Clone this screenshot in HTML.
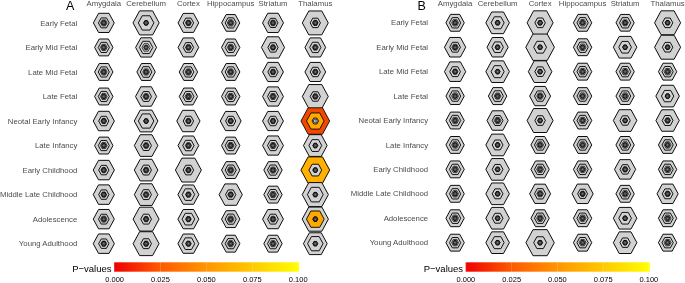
<!DOCTYPE html><html><head><meta charset="utf-8"><style>html,body{margin:0;padding:0;background:#fff;}svg{display:block;}</style></head><body><svg width="685" height="283" viewBox="0 0 685 283" font-family="'Liberation Sans', sans-serif"><defs><filter id="gs" x="0" y="0" width="685" height="283" filterUnits="userSpaceOnUse" color-interpolation-filters="sRGB"><feColorMatrix type="saturate" values="0"/></filter><linearGradient id="grad" x1="0" x2="1" y1="0" y2="0"><stop offset="0" stop-color="#ee0000"/><stop offset="0.25" stop-color="#ff5a00"/><stop offset="0.5" stop-color="#ff9500"/><stop offset="0.75" stop-color="#ffca00"/><stop offset="1" stop-color="#ffff00"/></linearGradient></defs><rect width="100%" height="100%" fill="#fff"/><g><g stroke="#000" stroke-width="0.85" stroke-linejoin="round"><polygon points="93.38,22.90 98.59,13.31 109.01,13.31 114.22,22.90 109.01,32.49 98.59,32.49" fill="#d2d2d2" stroke-width="0.95"/><polygon points="133.03,22.90 139.56,10.87 152.64,10.87 159.17,22.90 152.64,34.93 139.56,34.93" fill="#d2d2d2" stroke-width="0.95"/><polygon points="178.07,22.90 183.24,13.40 193.56,13.40 198.72,22.90 193.56,32.40 183.24,32.40" fill="#d2d2d2" stroke-width="0.95"/><polygon points="221.62,22.90 226.16,14.55 235.24,14.55 239.77,22.90 235.24,31.25 226.16,31.25" fill="#d2d2d2" stroke-width="0.95"/><polygon points="262.52,22.90 267.76,13.26 278.24,13.26 283.48,22.90 278.24,32.54 267.76,32.54" fill="#d2d2d2" stroke-width="0.95"/><polygon points="302.32,22.90 308.81,10.96 321.79,10.96 328.28,22.90 321.79,34.84 308.81,34.84" fill="#d2d2d2" stroke-width="0.95"/><polygon points="94.62,47.43 99.21,38.99 108.39,38.99 112.97,47.43 108.39,55.87 99.21,55.87" fill="#d2d2d2" stroke-width="0.95"/><polygon points="135.62,47.43 140.86,37.79 151.34,37.79 156.57,47.43 151.34,57.07 140.86,57.07" fill="#d2d2d2" stroke-width="0.95"/><polygon points="178.07,47.43 183.24,37.93 193.56,37.93 198.72,47.43 193.56,56.93 183.24,56.93" fill="#d2d2d2" stroke-width="0.95"/><polygon points="221.52,47.43 226.11,38.99 235.29,38.99 239.88,47.43 235.29,55.87 226.11,55.87" fill="#d2d2d2" stroke-width="0.95"/><polygon points="261.43,47.43 267.21,36.78 278.79,36.78 284.57,47.43 278.79,58.08 267.21,58.08" fill="#d2d2d2" stroke-width="0.95"/><polygon points="304.93,47.43 310.11,37.88 320.49,37.88 325.68,47.43 320.49,56.98 310.11,56.98" fill="#d2d2d2" stroke-width="0.95"/><polygon points="94.62,71.96 99.21,63.52 108.39,63.52 112.97,71.96 108.39,80.40 99.21,80.40" fill="#d2d2d2" stroke-width="0.95"/><polygon points="136.88,71.96 141.49,63.47 150.71,63.47 155.32,71.96 150.71,80.45 141.49,80.45" fill="#d2d2d2" stroke-width="0.95"/><polygon points="179.22,71.96 183.81,63.52 192.99,63.52 197.57,71.96 192.99,80.40 183.81,80.40" fill="#d2d2d2" stroke-width="0.95"/><polygon points="221.52,71.96 226.11,63.52 235.29,63.52 239.88,71.96 235.29,80.40 226.11,80.40" fill="#d2d2d2" stroke-width="0.95"/><polygon points="262.57,71.96 267.79,62.37 278.21,62.37 283.43,71.96 278.21,81.55 267.79,81.55" fill="#d2d2d2" stroke-width="0.95"/><polygon points="304.93,71.96 310.11,62.42 320.49,62.42 325.68,71.96 320.49,81.51 310.11,81.51" fill="#d2d2d2" stroke-width="0.95"/><polygon points="94.62,96.49 99.21,88.05 108.39,88.05 112.97,96.49 108.39,104.93 99.21,104.93" fill="#d2d2d2" stroke-width="0.95"/><polygon points="135.53,96.49 140.81,86.76 151.39,86.76 156.67,96.49 151.39,106.22 140.81,106.22" fill="#d2d2d2" stroke-width="0.95"/><polygon points="179.22,96.49 183.81,88.05 192.99,88.05 197.57,96.49 192.99,104.93 183.81,104.93" fill="#d2d2d2" stroke-width="0.95"/><polygon points="221.52,96.49 226.11,88.05 235.29,88.05 239.88,96.49 235.29,104.93 226.11,104.93" fill="#d2d2d2" stroke-width="0.95"/><polygon points="262.57,96.49 267.79,86.90 278.21,86.90 283.43,96.49 278.21,106.08 267.79,106.08" fill="#d2d2d2" stroke-width="0.95"/><polygon points="302.32,96.49 308.81,84.55 321.79,84.55 328.28,96.49 321.79,108.43 308.81,108.43" fill="#d2d2d2" stroke-width="0.95"/><polygon points="93.22,121.02 98.51,111.29 109.09,111.29 114.38,121.02 109.09,130.75 98.51,130.75" fill="#d2d2d2" stroke-width="0.95"/><polygon points="134.28,121.02 140.19,110.14 152.01,110.14 157.92,121.02 152.01,131.90 140.19,131.90" fill="#d2d2d2" stroke-width="0.95"/><polygon points="176.77,121.02 182.59,110.33 194.21,110.33 200.02,121.02 194.21,131.72 182.59,131.72" fill="#d2d2d2" stroke-width="0.95"/><polygon points="220.27,121.02 225.49,111.43 235.91,111.43 241.12,121.02 235.91,130.61 225.49,130.61" fill="#d2d2d2" stroke-width="0.95"/><polygon points="262.57,121.02 267.79,111.43 278.21,111.43 283.43,121.02 278.21,130.61 267.79,130.61" fill="#d2d2d2" stroke-width="0.95"/><polygon points="300.93,121.02 308.11,107.80 322.49,107.80 329.68,121.02 322.49,134.25 308.11,134.25" fill="#f04800" stroke-width="0.85"/><polygon points="94.62,145.55 99.21,137.11 108.39,137.11 112.97,145.55 108.39,153.99 99.21,153.99" fill="#d2d2d2" stroke-width="0.95"/><polygon points="134.32,145.55 140.21,134.72 151.99,134.72 157.88,145.55 151.99,156.38 140.21,156.38" fill="#d2d2d2" stroke-width="0.95"/><polygon points="178.02,145.55 183.21,136.01 193.59,136.01 198.77,145.55 193.59,155.09 183.21,155.09" fill="#d2d2d2" stroke-width="0.95"/><polygon points="221.52,145.55 226.11,137.11 235.29,137.11 239.88,145.55 235.29,153.99 226.11,153.99" fill="#d2d2d2" stroke-width="0.95"/><polygon points="262.57,145.55 267.79,135.96 278.21,135.96 283.43,145.55 278.21,155.14 267.79,155.14" fill="#d2d2d2" stroke-width="0.95"/><polygon points="303.48,145.55 309.39,134.67 321.21,134.67 327.12,145.55 321.21,156.43 309.39,156.43" fill="#d2d2d2" stroke-width="0.95"/><polygon points="93.22,170.08 98.51,160.35 109.09,160.35 114.38,170.08 109.09,179.81 98.51,179.81" fill="#d2d2d2" stroke-width="0.95"/><polygon points="134.32,170.08 140.21,159.25 151.99,159.25 157.88,170.08 151.99,180.91 140.21,180.91" fill="#d2d2d2" stroke-width="0.95"/><polygon points="175.42,170.08 181.91,158.14 194.89,158.14 201.37,170.08 194.89,182.02 181.91,182.02" fill="#d2d2d2" stroke-width="0.95"/><polygon points="221.52,170.08 226.11,161.64 235.29,161.64 239.88,170.08 235.29,178.52 226.11,178.52" fill="#d2d2d2" stroke-width="0.95"/><polygon points="263.82,170.08 268.41,161.64 277.59,161.64 282.18,170.08 277.59,178.52 268.41,178.52" fill="#d2d2d2" stroke-width="0.95"/><polygon points="300.93,170.08 308.11,156.86 322.49,156.86 329.68,170.08 322.49,183.31 308.11,183.31" fill="#ffb000" stroke-width="0.95"/><polygon points="93.22,194.61 98.51,184.88 109.09,184.88 114.38,194.61 109.09,204.34 98.51,204.34" fill="#d2d2d2" stroke-width="0.95"/><polygon points="134.32,194.61 140.21,183.78 151.99,183.78 157.88,194.61 151.99,205.44 140.21,205.44" fill="#d2d2d2" stroke-width="0.95"/><polygon points="177.92,194.61 183.16,184.97 193.64,184.97 198.87,194.61 193.64,204.25 183.16,204.25" fill="#d2d2d2" stroke-width="0.95"/><polygon points="219.07,194.61 224.89,183.92 236.51,183.92 242.32,194.61 236.51,205.31 224.89,205.31" fill="#d2d2d2" stroke-width="0.95"/><polygon points="263.82,194.61 268.41,186.17 277.59,186.17 282.18,194.61 277.59,203.05 268.41,203.05" fill="#d2d2d2" stroke-width="0.95"/><polygon points="302.23,194.61 308.76,182.58 321.84,182.58 328.38,194.61 321.84,206.64 308.76,206.64" fill="#d2d2d2" stroke-width="0.95"/><polygon points="93.28,219.14 98.54,209.46 109.06,209.46 114.32,219.14 109.06,228.82 98.54,228.82" fill="#d2d2d2" stroke-width="0.95"/><polygon points="133.12,219.14 139.61,207.20 152.59,207.20 159.07,219.14 152.59,231.08 139.61,231.08" fill="#d2d2d2" stroke-width="0.95"/><polygon points="177.92,219.14 183.16,209.50 193.64,209.50 198.87,219.14 193.64,228.78 183.16,228.78" fill="#d2d2d2" stroke-width="0.95"/><polygon points="221.52,219.14 226.11,210.70 235.29,210.70 239.88,219.14 235.29,227.58 226.11,227.58" fill="#d2d2d2" stroke-width="0.95"/><polygon points="262.57,219.14 267.79,209.55 278.21,209.55 283.43,219.14 278.21,228.73 267.79,228.73" fill="#d2d2d2" stroke-width="0.95"/><polygon points="302.18,219.14 308.74,207.07 321.86,207.07 328.43,219.14 321.86,231.22 308.74,231.22" fill="#d2d2d2" stroke-width="0.95"/><polygon points="93.22,243.67 98.51,233.94 109.09,233.94 114.38,243.67 109.09,253.40 98.51,253.40" fill="#d2d2d2" stroke-width="0.95"/><polygon points="133.12,243.67 139.61,231.73 152.59,231.73 159.07,243.67 152.59,255.61 139.61,255.61" fill="#d2d2d2" stroke-width="0.95"/><polygon points="177.92,243.67 183.16,234.03 193.64,234.03 198.87,243.67 193.64,253.31 183.16,253.31" fill="#d2d2d2" stroke-width="0.95"/><polygon points="221.52,243.67 226.11,235.23 235.29,235.23 239.88,243.67 235.29,252.11 226.11,252.11" fill="#d2d2d2" stroke-width="0.95"/><polygon points="263.82,243.67 268.41,235.23 277.59,235.23 282.18,243.67 277.59,252.11 268.41,252.11" fill="#d2d2d2" stroke-width="0.95"/><polygon points="303.43,243.67 309.36,232.75 321.24,232.75 327.18,243.67 321.24,254.60 309.36,254.60" fill="#d2d2d2" stroke-width="0.95"/><polygon points="98.42,22.90 101.11,17.95 106.49,17.95 109.17,22.90 106.49,27.84 101.11,27.84" fill="#d2d2d2" stroke-width="0.92"/><polygon points="138.32,22.90 142.21,15.75 149.99,15.75 153.88,22.90 149.99,30.05 142.21,30.05" fill="#d2d2d2" stroke-width="0.92"/><polygon points="183.17,22.90 185.79,18.09 191.01,18.09 193.62,22.90 191.01,27.71 185.79,27.71" fill="#d2d2d2" stroke-width="0.92"/><polygon points="225.17,22.90 227.94,17.82 233.46,17.82 236.22,22.90 233.46,27.98 227.94,27.98" fill="#d2d2d2" stroke-width="0.92"/><polygon points="268.02,22.90 270.51,18.32 275.49,18.32 277.98,22.90 275.49,27.48 270.51,27.48" fill="#d2d2d2" stroke-width="0.92"/><polygon points="310.18,22.90 312.74,18.18 317.86,18.18 320.43,22.90 317.86,27.61 312.74,27.61" fill="#d2d2d2" stroke-width="0.92"/><polygon points="98.27,47.43 101.04,42.35 106.56,42.35 109.33,47.43 106.56,52.51 101.04,52.51" fill="#d2d2d2" stroke-width="0.92"/><polygon points="139.42,47.43 142.76,41.29 149.44,41.29 152.78,47.43 149.44,53.57 142.76,53.57" fill="#d2d2d2" stroke-width="0.92"/><polygon points="183.17,47.43 185.79,42.62 191.01,42.62 193.62,47.43 191.01,52.24 185.79,52.24" fill="#d2d2d2" stroke-width="0.92"/><polygon points="225.17,47.43 227.94,42.35 233.46,42.35 236.22,47.43 233.46,52.51 227.94,52.51" fill="#d2d2d2" stroke-width="0.92"/><polygon points="267.88,47.43 270.44,42.72 275.56,42.72 278.12,47.43 275.56,52.14 270.44,52.14" fill="#d2d2d2" stroke-width="0.92"/><polygon points="309.68,47.43 312.49,42.26 318.11,42.26 320.93,47.43 318.11,52.60 312.49,52.60" fill="#d2d2d2" stroke-width="0.92"/><polygon points="98.27,71.96 101.04,66.88 106.56,66.88 109.33,71.96 106.56,77.04 101.04,77.04" fill="#d2d2d2" stroke-width="0.92"/><polygon points="140.32,71.96 143.21,66.65 148.99,66.65 151.88,71.96 148.99,77.27 143.21,77.27" fill="#d2d2d2" stroke-width="0.92"/><polygon points="182.87,71.96 185.64,66.88 191.16,66.88 193.92,71.96 191.16,77.04 185.64,77.04" fill="#d2d2d2" stroke-width="0.92"/><polygon points="225.17,71.96 227.94,66.88 233.46,66.88 236.22,71.96 233.46,77.04 227.94,77.04" fill="#d2d2d2" stroke-width="0.92"/><polygon points="267.88,71.96 270.44,67.25 275.56,67.25 278.12,71.96 275.56,76.68 270.44,76.68" fill="#d2d2d2" stroke-width="0.92"/><polygon points="310.18,71.96 312.74,67.25 317.86,67.25 320.43,71.96 317.86,76.68 312.74,76.68" fill="#d2d2d2" stroke-width="0.92"/><polygon points="98.27,96.49 101.04,91.41 106.56,91.41 109.33,96.49 106.56,101.57 101.04,101.57" fill="#d2d2d2" stroke-width="0.92"/><polygon points="140.72,96.49 143.41,91.55 148.79,91.55 151.47,96.49 148.79,101.44 143.41,101.44" fill="#d2d2d2" stroke-width="0.92"/><polygon points="182.87,96.49 185.64,91.41 191.16,91.41 193.92,96.49 191.16,101.57 185.64,101.57" fill="#d2d2d2" stroke-width="0.92"/><polygon points="225.17,96.49 227.94,91.41 233.46,91.41 236.22,96.49 233.46,101.57 227.94,101.57" fill="#d2d2d2" stroke-width="0.92"/><polygon points="267.48,96.49 270.24,91.41 275.76,91.41 278.52,96.49 275.76,101.57 270.24,101.57" fill="#d2d2d2" stroke-width="0.92"/><polygon points="310.18,96.49 312.74,91.78 317.86,91.78 320.43,96.49 317.86,101.21 312.74,101.21" fill="#d2d2d2" stroke-width="0.92"/><polygon points="98.67,121.02 101.24,116.31 106.36,116.31 108.92,121.02 106.36,125.74 101.24,125.74" fill="#d2d2d2" stroke-width="0.92"/><polygon points="138.38,121.02 142.24,113.91 149.96,113.91 153.82,121.02 149.96,128.13 142.24,128.13" fill="#d2d2d2" stroke-width="0.92"/><polygon points="183.17,121.02 185.79,116.21 191.01,116.21 193.62,121.02 191.01,125.83 185.79,125.83" fill="#d2d2d2" stroke-width="0.92"/><polygon points="225.57,121.02 228.14,116.31 233.26,116.31 235.82,121.02 233.26,125.74 228.14,125.74" fill="#d2d2d2" stroke-width="0.92"/><polygon points="267.88,121.02 270.44,116.31 275.56,116.31 278.12,121.02 275.56,125.74 270.44,125.74" fill="#d2d2d2" stroke-width="0.92"/><polygon points="306.53,121.02 310.91,112.95 319.69,112.95 324.07,121.02 319.69,129.09 310.91,129.09" fill="#ffa800" stroke-width="0.85"/><polygon points="98.27,145.55 101.04,140.47 106.56,140.47 109.33,145.55 106.56,150.63 101.04,150.63" fill="#d2d2d2" stroke-width="0.92"/><polygon points="140.72,145.55 143.41,140.61 148.79,140.61 151.47,145.55 148.79,150.50 143.41,150.50" fill="#d2d2d2" stroke-width="0.92"/><polygon points="182.72,145.55 185.56,140.33 191.24,140.33 194.07,145.55 191.24,150.77 185.56,150.77" fill="#d2d2d2" stroke-width="0.92"/><polygon points="225.17,145.55 227.94,140.47 233.46,140.47 236.22,145.55 233.46,150.63 227.94,150.63" fill="#d2d2d2" stroke-width="0.92"/><polygon points="267.48,145.55 270.24,140.47 275.76,140.47 278.52,145.55 275.76,150.63 270.24,150.63" fill="#d2d2d2" stroke-width="0.92"/><polygon points="308.88,145.55 312.09,139.64 318.51,139.64 321.73,145.55 318.51,151.46 312.09,151.46" fill="#d2d2d2" stroke-width="0.92"/><polygon points="98.67,170.08 101.24,165.37 106.36,165.37 108.92,170.08 106.36,174.80 101.24,174.80" fill="#d2d2d2" stroke-width="0.92"/><polygon points="140.72,170.08 143.41,165.14 148.79,165.14 151.47,170.08 148.79,175.03 143.41,175.03" fill="#d2d2d2" stroke-width="0.92"/><polygon points="183.17,170.08 185.79,165.27 191.01,165.27 193.62,170.08 191.01,174.89 185.79,174.89" fill="#d2d2d2" stroke-width="0.92"/><polygon points="225.17,170.08 227.94,165.00 233.46,165.00 236.22,170.08 233.46,175.16 227.94,175.16" fill="#d2d2d2" stroke-width="0.92"/><polygon points="267.48,170.08 270.24,165.00 275.76,165.00 278.52,170.08 275.76,175.16 270.24,175.16" fill="#d2d2d2" stroke-width="0.92"/><polygon points="308.93,170.08 312.11,164.22 318.49,164.22 321.68,170.08 318.49,175.95 312.11,175.95" fill="#d2d2d2" stroke-width="0.92"/><polygon points="98.67,194.61 101.24,189.90 106.36,189.90 108.92,194.61 106.36,199.33 101.24,199.33" fill="#d2d2d2" stroke-width="0.92"/><polygon points="140.72,194.61 143.41,189.67 148.79,189.67 151.47,194.61 148.79,199.56 143.41,199.56" fill="#d2d2d2" stroke-width="0.92"/><polygon points="182.12,194.61 185.26,188.84 191.54,188.84 194.67,194.61 191.54,200.38 185.26,200.38" fill="#d2d2d2" stroke-width="0.92"/><polygon points="225.57,194.61 228.14,189.90 233.26,189.90 235.82,194.61 233.26,199.33 228.14,199.33" fill="#d2d2d2" stroke-width="0.92"/><polygon points="267.48,194.61 270.24,189.53 275.76,189.53 278.52,194.61 275.76,199.69 270.24,199.69" fill="#d2d2d2" stroke-width="0.92"/><polygon points="307.38,194.61 311.34,187.32 319.26,187.32 323.23,194.61 319.26,201.90 311.34,201.90" fill="#d2d2d2" stroke-width="0.92"/><polygon points="98.47,219.14 101.14,214.24 106.46,214.24 109.12,219.14 106.46,224.04 101.14,224.04" fill="#d2d2d2" stroke-width="0.92"/><polygon points="140.72,219.14 143.41,214.20 148.79,214.20 151.47,219.14 148.79,224.09 143.41,224.09" fill="#d2d2d2" stroke-width="0.92"/><polygon points="182.07,219.14 185.24,213.32 191.56,213.32 194.72,219.14 191.56,224.96 185.24,224.96" fill="#d2d2d2" stroke-width="0.92"/><polygon points="225.17,219.14 227.94,214.06 233.46,214.06 236.22,219.14 233.46,224.22 227.94,224.22" fill="#d2d2d2" stroke-width="0.92"/><polygon points="267.62,219.14 270.31,214.20 275.69,214.20 278.38,219.14 275.69,224.09 270.31,224.09" fill="#d2d2d2" stroke-width="0.92"/><polygon points="306.43,219.14 310.86,210.98 319.74,210.98 324.18,219.14 319.74,227.31 310.86,227.31" fill="#ffa800" stroke-width="0.92"/><polygon points="98.67,243.67 101.24,238.96 106.36,238.96 108.92,243.67 106.36,248.39 101.24,248.39" fill="#d2d2d2" stroke-width="0.92"/><polygon points="140.72,243.67 143.41,238.73 148.79,238.73 151.47,243.67 148.79,248.62 143.41,248.62" fill="#d2d2d2" stroke-width="0.92"/><polygon points="182.07,243.67 185.24,237.85 191.56,237.85 194.72,243.67 191.56,249.49 185.24,249.49" fill="#d2d2d2" stroke-width="0.92"/><polygon points="225.17,243.67 227.94,238.59 233.46,238.59 236.22,243.67 233.46,248.75 227.94,248.75" fill="#d2d2d2" stroke-width="0.92"/><polygon points="267.48,243.67 270.24,238.59 275.76,238.59 278.52,243.67 275.76,248.75 270.24,248.75" fill="#d2d2d2" stroke-width="0.92"/><polygon points="307.57,243.67 311.44,236.56 319.16,236.56 323.03,243.67 319.16,250.78 311.44,250.78" fill="#d2d2d2" stroke-width="0.92"/><polygon points="100.52,22.90 102.16,19.89 105.44,19.89 107.08,22.90 105.44,25.91 102.16,25.91" fill="#d2d2d2" stroke-width="0.7"/><polygon points="143.67,22.90 144.89,20.67 147.31,20.67 148.53,22.90 147.31,25.13 144.89,25.13" fill="#d2d2d2" stroke-width="0.7"/><polygon points="185.47,22.90 186.94,20.21 189.86,20.21 191.32,22.90 189.86,25.59 186.94,25.59" fill="#d2d2d2" stroke-width="0.7"/><polygon points="227.27,22.90 228.99,19.75 232.41,19.75 234.12,22.90 232.41,26.05 228.99,26.05" fill="#d2d2d2" stroke-width="0.7"/><polygon points="269.98,22.90 271.49,20.12 274.51,20.12 276.02,22.90 274.51,25.68 271.49,25.68" fill="#d2d2d2" stroke-width="0.7"/><polygon points="312.48,22.90 313.89,20.30 316.71,20.30 318.12,22.90 316.71,25.50 313.89,25.50" fill="#d2d2d2" stroke-width="0.7"/><polygon points="100.47,47.43 102.14,44.37 105.46,44.37 107.12,47.43 105.46,50.49 102.14,50.49" fill="#d2d2d2" stroke-width="0.7"/><polygon points="142.03,47.43 144.06,43.68 148.14,43.68 150.17,47.43 148.14,51.18 144.06,51.18" fill="#d2d2d2" stroke-width="0.7"/><polygon points="185.47,47.43 186.94,44.74 189.86,44.74 191.32,47.43 189.86,50.12 186.94,50.12" fill="#d2d2d2" stroke-width="0.7"/><polygon points="227.38,47.43 229.04,44.37 232.36,44.37 234.02,47.43 232.36,50.49 229.04,50.49" fill="#d2d2d2" stroke-width="0.7"/><polygon points="270.18,47.43 271.59,44.83 274.41,44.83 275.82,47.43 274.41,50.03 271.59,50.03" fill="#d2d2d2" stroke-width="0.7"/><polygon points="312.32,47.43 313.81,44.69 316.79,44.69 318.28,47.43 316.79,50.17 313.81,50.17" fill="#d2d2d2" stroke-width="0.7"/><polygon points="100.47,71.96 102.14,68.90 105.46,68.90 107.12,71.96 105.46,75.02 102.14,75.02" fill="#d2d2d2" stroke-width="0.7"/><polygon points="142.72,71.96 144.41,68.86 147.79,68.86 149.47,71.96 147.79,75.07 144.41,75.07" fill="#d2d2d2" stroke-width="0.7"/><polygon points="185.07,71.96 186.74,68.90 190.06,68.90 191.72,71.96 190.06,75.02 186.74,75.02" fill="#d2d2d2" stroke-width="0.7"/><polygon points="227.38,71.96 229.04,68.90 232.36,68.90 234.02,71.96 232.36,75.02 229.04,75.02" fill="#d2d2d2" stroke-width="0.7"/><polygon points="270.07,71.96 271.54,69.27 274.46,69.27 275.93,71.96 274.46,74.65 271.54,74.65" fill="#d2d2d2" stroke-width="0.7"/><polygon points="312.48,71.96 313.89,69.36 316.71,69.36 318.12,71.96 316.71,74.56 313.89,74.56" fill="#d2d2d2" stroke-width="0.7"/><polygon points="100.47,96.49 102.14,93.43 105.46,93.43 107.12,96.49 105.46,99.55 102.14,99.55" fill="#d2d2d2" stroke-width="0.7"/><polygon points="143.03,96.49 144.56,93.66 147.64,93.66 149.17,96.49 147.64,99.32 144.56,99.32" fill="#d2d2d2" stroke-width="0.7"/><polygon points="185.07,96.49 186.74,93.43 190.06,93.43 191.72,96.49 190.06,99.55 186.74,99.55" fill="#d2d2d2" stroke-width="0.7"/><polygon points="227.38,96.49 229.04,93.43 232.36,93.43 234.02,96.49 232.36,99.55 229.04,99.55" fill="#d2d2d2" stroke-width="0.7"/><polygon points="269.77,96.49 271.39,93.52 274.61,93.52 276.23,96.49 274.61,99.46 271.39,99.46" fill="#d2d2d2" stroke-width="0.7"/><polygon points="312.48,96.49 313.89,93.89 316.71,93.89 318.12,96.49 316.71,99.09 313.89,99.09" fill="#d2d2d2" stroke-width="0.7"/><polygon points="100.97,121.02 102.39,118.42 105.21,118.42 106.62,121.02 105.21,123.62 102.39,123.62" fill="#d2d2d2" stroke-width="0.7"/><polygon points="143.67,121.02 144.89,118.79 147.31,118.79 148.53,121.02 147.31,123.25 144.89,123.25" fill="#d2d2d2" stroke-width="0.7"/><polygon points="185.57,121.02 186.99,118.42 189.81,118.42 191.22,121.02 189.81,123.62 186.99,123.62" fill="#d2d2d2" stroke-width="0.7"/><polygon points="227.88,121.02 229.29,118.42 232.11,118.42 233.52,121.02 232.11,123.62 229.29,123.62" fill="#d2d2d2" stroke-width="0.7"/><polygon points="270.18,121.02 271.59,118.42 274.41,118.42 275.82,121.02 274.41,123.62 271.59,123.62" fill="#d2d2d2" stroke-width="0.7"/><polygon points="312.07,121.02 313.69,118.05 316.91,118.05 318.53,121.02 316.91,123.99 313.69,123.99" fill="#d2d2d2" stroke-width="0.85"/><polygon points="100.47,145.55 102.14,142.49 105.46,142.49 107.12,145.55 105.46,148.61 102.14,148.61" fill="#d2d2d2" stroke-width="0.7"/><polygon points="143.12,145.55 144.61,142.81 147.59,142.81 149.07,145.55 147.59,148.29 144.61,148.29" fill="#d2d2d2" stroke-width="0.7"/><polygon points="185.32,145.55 186.86,142.72 189.94,142.72 191.47,145.55 189.94,148.38 186.86,148.38" fill="#d2d2d2" stroke-width="0.7"/><polygon points="227.38,145.55 229.04,142.49 232.36,142.49 234.02,145.55 232.36,148.61 229.04,148.61" fill="#d2d2d2" stroke-width="0.7"/><polygon points="269.77,145.55 271.39,142.58 274.61,142.58 276.23,145.55 274.61,148.52 271.39,148.52" fill="#d2d2d2" stroke-width="0.7"/><polygon points="312.88,145.55 314.09,143.32 316.51,143.32 317.73,145.55 316.51,147.78 314.09,147.78" fill="#d2d2d2" stroke-width="0.7"/><polygon points="100.97,170.08 102.39,167.48 105.21,167.48 106.62,170.08 105.21,172.68 102.39,172.68" fill="#d2d2d2" stroke-width="0.7"/><polygon points="143.12,170.08 144.61,167.34 147.59,167.34 149.07,170.08 147.59,172.82 144.61,172.82" fill="#d2d2d2" stroke-width="0.7"/><polygon points="185.57,170.08 186.99,167.48 189.81,167.48 191.22,170.08 189.81,172.68 186.99,172.68" fill="#d2d2d2" stroke-width="0.7"/><polygon points="227.38,170.08 229.04,167.02 232.36,167.02 234.02,170.08 232.36,173.14 229.04,173.14" fill="#d2d2d2" stroke-width="0.7"/><polygon points="269.68,170.08 271.34,167.02 274.66,167.02 276.32,170.08 274.66,173.14 271.34,173.14" fill="#d2d2d2" stroke-width="0.7"/><polygon points="312.88,170.08 314.09,167.85 316.51,167.85 317.73,170.08 316.51,172.31 314.09,172.31" fill="#d2d2d2" stroke-width="0.7"/><polygon points="100.97,194.61 102.39,192.01 105.21,192.01 106.62,194.61 105.21,197.21 102.39,197.21" fill="#d2d2d2" stroke-width="0.7"/><polygon points="143.12,194.61 144.61,191.87 147.59,191.87 149.07,194.61 147.59,197.35 144.61,197.35" fill="#d2d2d2" stroke-width="0.7"/><polygon points="185.57,194.61 186.99,192.01 189.81,192.01 191.22,194.61 189.81,197.21 186.99,197.21" fill="#d2d2d2" stroke-width="0.7"/><polygon points="227.88,194.61 229.29,192.01 232.11,192.01 233.52,194.61 232.11,197.21 229.29,197.21" fill="#d2d2d2" stroke-width="0.7"/><polygon points="269.68,194.61 271.34,191.55 274.66,191.55 276.32,194.61 274.66,197.67 271.34,197.67" fill="#d2d2d2" stroke-width="0.7"/><polygon points="312.88,194.61 314.09,192.38 316.51,192.38 317.73,194.61 316.51,196.84 314.09,196.84" fill="#d2d2d2" stroke-width="0.7"/><polygon points="100.58,219.14 102.19,216.17 105.41,216.17 107.02,219.14 105.41,222.11 102.19,222.11" fill="#d2d2d2" stroke-width="0.7"/><polygon points="143.28,219.14 144.69,216.54 147.51,216.54 148.92,219.14 147.51,221.74 144.69,221.74" fill="#d2d2d2" stroke-width="0.7"/><polygon points="185.57,219.14 186.99,216.54 189.81,216.54 191.22,219.14 189.81,221.74 186.99,221.74" fill="#d2d2d2" stroke-width="0.7"/><polygon points="227.38,219.14 229.04,216.08 232.36,216.08 234.02,219.14 232.36,222.20 229.04,222.20" fill="#d2d2d2" stroke-width="0.7"/><polygon points="269.93,219.14 271.46,216.31 274.54,216.31 276.07,219.14 274.54,221.97 271.46,221.97" fill="#d2d2d2" stroke-width="0.7"/><polygon points="312.88,219.14 314.09,216.91 316.51,216.91 317.73,219.14 316.51,221.37 314.09,221.37" fill="#d2d2d2" stroke-width="0.7"/><polygon points="100.97,243.67 102.39,241.07 105.21,241.07 106.62,243.67 105.21,246.27 102.39,246.27" fill="#d2d2d2" stroke-width="0.7"/><polygon points="143.28,243.67 144.69,241.07 147.51,241.07 148.92,243.67 147.51,246.27 144.69,246.27" fill="#d2d2d2" stroke-width="0.7"/><polygon points="185.57,243.67 186.99,241.07 189.81,241.07 191.22,243.67 189.81,246.27 186.99,246.27" fill="#d2d2d2" stroke-width="0.7"/><polygon points="227.38,243.67 229.04,240.61 232.36,240.61 234.02,243.67 232.36,246.73 229.04,246.73" fill="#d2d2d2" stroke-width="0.7"/><polygon points="269.68,243.67 271.34,240.61 274.66,240.61 276.32,243.67 274.66,246.73 271.34,246.73" fill="#d2d2d2" stroke-width="0.7"/><polygon points="312.88,243.67 314.09,241.44 316.51,241.44 317.73,243.67 316.51,245.90 314.09,245.90" fill="#d2d2d2" stroke-width="0.7"/><polygon points="101.42,22.90 102.61,20.71 104.99,20.71 106.17,22.90 104.99,25.08 102.61,25.08" fill="#454545"/><circle cx="103.80" cy="22.90" r="0.6" fill="#8a8a8a" stroke="none"/><polygon points="143.72,22.90 144.91,20.71 147.29,20.71 148.47,22.90 147.29,25.08 144.91,25.08" fill="#454545"/><circle cx="146.10" cy="22.90" r="0.6" fill="#8a8a8a" stroke="none"/><polygon points="186.02,22.90 187.21,20.71 189.59,20.71 190.77,22.90 189.59,25.08 187.21,25.08" fill="#454545"/><circle cx="188.40" cy="22.90" r="0.6" fill="#8a8a8a" stroke="none"/><polygon points="228.32,22.90 229.51,20.71 231.89,20.71 233.07,22.90 231.89,25.08 229.51,25.08" fill="#454545"/><circle cx="230.70" cy="22.90" r="0.6" fill="#8a8a8a" stroke="none"/><polygon points="270.62,22.90 271.81,20.71 274.19,20.71 275.38,22.90 274.19,25.08 271.81,25.08" fill="#454545"/><circle cx="273.00" cy="22.90" r="0.6" fill="#8a8a8a" stroke="none"/><polygon points="312.93,22.90 314.11,20.71 316.49,20.71 317.68,22.90 316.49,25.08 314.11,25.08" fill="#454545"/><circle cx="315.30" cy="22.90" r="0.6" fill="#8a8a8a" stroke="none"/><polygon points="101.42,47.43 102.61,45.24 104.99,45.24 106.17,47.43 104.99,49.62 102.61,49.62" fill="#454545"/><circle cx="103.80" cy="47.43" r="0.6" fill="#8a8a8a" stroke="none"/><polygon points="143.72,47.43 144.91,45.24 147.29,45.24 148.47,47.43 147.29,49.62 144.91,49.62" fill="#454545"/><circle cx="146.10" cy="47.43" r="0.6" fill="#8a8a8a" stroke="none"/><polygon points="186.02,47.43 187.21,45.24 189.59,45.24 190.77,47.43 189.59,49.62 187.21,49.62" fill="#454545"/><circle cx="188.40" cy="47.43" r="0.6" fill="#8a8a8a" stroke="none"/><polygon points="228.32,47.43 229.51,45.24 231.89,45.24 233.07,47.43 231.89,49.62 229.51,49.62" fill="#454545"/><circle cx="230.70" cy="47.43" r="0.6" fill="#8a8a8a" stroke="none"/><polygon points="270.62,47.43 271.81,45.24 274.19,45.24 275.38,47.43 274.19,49.62 271.81,49.62" fill="#454545"/><circle cx="273.00" cy="47.43" r="0.6" fill="#8a8a8a" stroke="none"/><polygon points="312.93,47.43 314.11,45.24 316.49,45.24 317.68,47.43 316.49,49.62 314.11,49.62" fill="#454545"/><circle cx="315.30" cy="47.43" r="0.6" fill="#8a8a8a" stroke="none"/><polygon points="101.42,71.96 102.61,69.78 104.99,69.78 106.17,71.96 104.99,74.15 102.61,74.15" fill="#454545"/><circle cx="103.80" cy="71.96" r="0.6" fill="#8a8a8a" stroke="none"/><polygon points="143.72,71.96 144.91,69.78 147.29,69.78 148.47,71.96 147.29,74.15 144.91,74.15" fill="#454545"/><circle cx="146.10" cy="71.96" r="0.6" fill="#8a8a8a" stroke="none"/><polygon points="186.02,71.96 187.21,69.78 189.59,69.78 190.77,71.96 189.59,74.15 187.21,74.15" fill="#454545"/><circle cx="188.40" cy="71.96" r="0.6" fill="#8a8a8a" stroke="none"/><polygon points="228.32,71.96 229.51,69.78 231.89,69.78 233.07,71.96 231.89,74.15 229.51,74.15" fill="#454545"/><circle cx="230.70" cy="71.96" r="0.6" fill="#8a8a8a" stroke="none"/><polygon points="270.62,71.96 271.81,69.78 274.19,69.78 275.38,71.96 274.19,74.15 271.81,74.15" fill="#454545"/><circle cx="273.00" cy="71.96" r="0.6" fill="#8a8a8a" stroke="none"/><polygon points="312.93,71.96 314.11,69.78 316.49,69.78 317.68,71.96 316.49,74.15 314.11,74.15" fill="#454545"/><circle cx="315.30" cy="71.96" r="0.6" fill="#8a8a8a" stroke="none"/><polygon points="101.42,96.49 102.61,94.31 104.99,94.31 106.17,96.49 104.99,98.68 102.61,98.68" fill="#454545"/><circle cx="103.80" cy="96.49" r="0.6" fill="#8a8a8a" stroke="none"/><polygon points="143.72,96.49 144.91,94.31 147.29,94.31 148.47,96.49 147.29,98.68 144.91,98.68" fill="#454545"/><circle cx="146.10" cy="96.49" r="0.6" fill="#8a8a8a" stroke="none"/><polygon points="186.02,96.49 187.21,94.31 189.59,94.31 190.77,96.49 189.59,98.68 187.21,98.68" fill="#454545"/><circle cx="188.40" cy="96.49" r="0.6" fill="#8a8a8a" stroke="none"/><polygon points="228.32,96.49 229.51,94.31 231.89,94.31 233.07,96.49 231.89,98.68 229.51,98.68" fill="#454545"/><circle cx="230.70" cy="96.49" r="0.6" fill="#8a8a8a" stroke="none"/><polygon points="270.62,96.49 271.81,94.31 274.19,94.31 275.38,96.49 274.19,98.68 271.81,98.68" fill="#454545"/><circle cx="273.00" cy="96.49" r="0.6" fill="#8a8a8a" stroke="none"/><polygon points="312.93,96.49 314.11,94.31 316.49,94.31 317.68,96.49 316.49,98.68 314.11,98.68" fill="#454545"/><circle cx="315.30" cy="96.49" r="0.6" fill="#8a8a8a" stroke="none"/><polygon points="101.42,121.02 102.61,118.84 104.99,118.84 106.17,121.02 104.99,123.21 102.61,123.21" fill="#454545"/><circle cx="103.80" cy="121.02" r="0.6" fill="#8a8a8a" stroke="none"/><polygon points="143.72,121.02 144.91,118.84 147.29,118.84 148.47,121.02 147.29,123.21 144.91,123.21" fill="#454545"/><circle cx="146.10" cy="121.02" r="0.6" fill="#8a8a8a" stroke="none"/><polygon points="186.02,121.02 187.21,118.84 189.59,118.84 190.77,121.02 189.59,123.21 187.21,123.21" fill="#454545"/><circle cx="188.40" cy="121.02" r="0.6" fill="#8a8a8a" stroke="none"/><polygon points="228.32,121.02 229.51,118.84 231.89,118.84 233.07,121.02 231.89,123.21 229.51,123.21" fill="#454545"/><circle cx="230.70" cy="121.02" r="0.6" fill="#8a8a8a" stroke="none"/><polygon points="270.62,121.02 271.81,118.84 274.19,118.84 275.38,121.02 274.19,123.21 271.81,123.21" fill="#454545"/><circle cx="273.00" cy="121.02" r="0.6" fill="#8a8a8a" stroke="none"/><polygon points="313.32,121.02 314.31,119.20 316.29,119.20 317.28,121.02 316.29,122.84 314.31,122.84" fill="#e0e0e0" stroke-width="0.75"/><circle cx="315.30" cy="121.02" r="0.7" fill="#666" stroke="none"/><polygon points="101.42,145.55 102.61,143.37 104.99,143.37 106.17,145.55 104.99,147.74 102.61,147.74" fill="#454545"/><circle cx="103.80" cy="145.55" r="0.6" fill="#8a8a8a" stroke="none"/><polygon points="143.72,145.55 144.91,143.37 147.29,143.37 148.47,145.55 147.29,147.74 144.91,147.74" fill="#454545"/><circle cx="146.10" cy="145.55" r="0.6" fill="#8a8a8a" stroke="none"/><polygon points="186.02,145.55 187.21,143.37 189.59,143.37 190.77,145.55 189.59,147.74 187.21,147.74" fill="#454545"/><circle cx="188.40" cy="145.55" r="0.6" fill="#8a8a8a" stroke="none"/><polygon points="228.32,145.55 229.51,143.37 231.89,143.37 233.07,145.55 231.89,147.74 229.51,147.74" fill="#454545"/><circle cx="230.70" cy="145.55" r="0.6" fill="#8a8a8a" stroke="none"/><polygon points="270.62,145.55 271.81,143.37 274.19,143.37 275.38,145.55 274.19,147.74 271.81,147.74" fill="#454545"/><circle cx="273.00" cy="145.55" r="0.6" fill="#8a8a8a" stroke="none"/><polygon points="312.93,145.55 314.11,143.37 316.49,143.37 317.68,145.55 316.49,147.74 314.11,147.74" fill="#454545"/><circle cx="315.30" cy="145.55" r="0.6" fill="#8a8a8a" stroke="none"/><polygon points="101.42,170.08 102.61,167.90 104.99,167.90 106.17,170.08 104.99,172.27 102.61,172.27" fill="#454545"/><circle cx="103.80" cy="170.08" r="0.6" fill="#8a8a8a" stroke="none"/><polygon points="143.72,170.08 144.91,167.90 147.29,167.90 148.47,170.08 147.29,172.27 144.91,172.27" fill="#454545"/><circle cx="146.10" cy="170.08" r="0.6" fill="#8a8a8a" stroke="none"/><polygon points="186.02,170.08 187.21,167.90 189.59,167.90 190.77,170.08 189.59,172.27 187.21,172.27" fill="#454545"/><circle cx="188.40" cy="170.08" r="0.6" fill="#8a8a8a" stroke="none"/><polygon points="228.32,170.08 229.51,167.90 231.89,167.90 233.07,170.08 231.89,172.27 229.51,172.27" fill="#454545"/><circle cx="230.70" cy="170.08" r="0.6" fill="#8a8a8a" stroke="none"/><polygon points="270.62,170.08 271.81,167.90 274.19,167.90 275.38,170.08 274.19,172.27 271.81,172.27" fill="#454545"/><circle cx="273.00" cy="170.08" r="0.6" fill="#8a8a8a" stroke="none"/><polygon points="312.93,170.08 314.11,167.90 316.49,167.90 317.68,170.08 316.49,172.27 314.11,172.27" fill="#454545"/><circle cx="315.30" cy="170.08" r="0.6" fill="#8a8a8a" stroke="none"/><polygon points="101.42,194.61 102.61,192.43 104.99,192.43 106.17,194.61 104.99,196.80 102.61,196.80" fill="#454545"/><circle cx="103.80" cy="194.61" r="0.6" fill="#8a8a8a" stroke="none"/><polygon points="143.72,194.61 144.91,192.43 147.29,192.43 148.47,194.61 147.29,196.80 144.91,196.80" fill="#454545"/><circle cx="146.10" cy="194.61" r="0.6" fill="#8a8a8a" stroke="none"/><polygon points="186.02,194.61 187.21,192.43 189.59,192.43 190.77,194.61 189.59,196.80 187.21,196.80" fill="#454545"/><circle cx="188.40" cy="194.61" r="0.6" fill="#8a8a8a" stroke="none"/><polygon points="228.32,194.61 229.51,192.43 231.89,192.43 233.07,194.61 231.89,196.80 229.51,196.80" fill="#454545"/><circle cx="230.70" cy="194.61" r="0.6" fill="#8a8a8a" stroke="none"/><polygon points="270.62,194.61 271.81,192.43 274.19,192.43 275.38,194.61 274.19,196.80 271.81,196.80" fill="#454545"/><circle cx="273.00" cy="194.61" r="0.6" fill="#8a8a8a" stroke="none"/><polygon points="312.93,194.61 314.11,192.43 316.49,192.43 317.68,194.61 316.49,196.80 314.11,196.80" fill="#454545"/><circle cx="315.30" cy="194.61" r="0.6" fill="#8a8a8a" stroke="none"/><polygon points="101.42,219.14 102.61,216.96 104.99,216.96 106.17,219.14 104.99,221.33 102.61,221.33" fill="#454545"/><circle cx="103.80" cy="219.14" r="0.6" fill="#8a8a8a" stroke="none"/><polygon points="143.72,219.14 144.91,216.96 147.29,216.96 148.47,219.14 147.29,221.33 144.91,221.33" fill="#454545"/><circle cx="146.10" cy="219.14" r="0.6" fill="#8a8a8a" stroke="none"/><polygon points="186.02,219.14 187.21,216.96 189.59,216.96 190.77,219.14 189.59,221.33 187.21,221.33" fill="#454545"/><circle cx="188.40" cy="219.14" r="0.6" fill="#8a8a8a" stroke="none"/><polygon points="228.32,219.14 229.51,216.96 231.89,216.96 233.07,219.14 231.89,221.33 229.51,221.33" fill="#454545"/><circle cx="230.70" cy="219.14" r="0.6" fill="#8a8a8a" stroke="none"/><polygon points="270.62,219.14 271.81,216.96 274.19,216.96 275.38,219.14 274.19,221.33 271.81,221.33" fill="#454545"/><circle cx="273.00" cy="219.14" r="0.6" fill="#8a8a8a" stroke="none"/><polygon points="312.93,219.14 314.11,216.96 316.49,216.96 317.68,219.14 316.49,221.33 314.11,221.33" fill="#454545"/><circle cx="315.30" cy="219.14" r="0.6" fill="#8a8a8a" stroke="none"/><polygon points="101.42,243.67 102.61,241.49 104.99,241.49 106.17,243.67 104.99,245.86 102.61,245.86" fill="#454545"/><circle cx="103.80" cy="243.67" r="0.6" fill="#8a8a8a" stroke="none"/><polygon points="143.72,243.67 144.91,241.49 147.29,241.49 148.47,243.67 147.29,245.86 144.91,245.86" fill="#454545"/><circle cx="146.10" cy="243.67" r="0.6" fill="#8a8a8a" stroke="none"/><polygon points="186.02,243.67 187.21,241.49 189.59,241.49 190.77,243.67 189.59,245.86 187.21,245.86" fill="#454545"/><circle cx="188.40" cy="243.67" r="0.6" fill="#8a8a8a" stroke="none"/><polygon points="228.32,243.67 229.51,241.49 231.89,241.49 233.07,243.67 231.89,245.86 229.51,245.86" fill="#454545"/><circle cx="230.70" cy="243.67" r="0.6" fill="#8a8a8a" stroke="none"/><polygon points="270.62,243.67 271.81,241.49 274.19,241.49 275.38,243.67 274.19,245.86 271.81,245.86" fill="#454545"/><circle cx="273.00" cy="243.67" r="0.6" fill="#8a8a8a" stroke="none"/><polygon points="312.93,243.67 314.11,241.49 316.49,241.49 317.68,243.67 316.49,245.86 314.11,245.86" fill="#454545"/><circle cx="315.30" cy="243.67" r="0.6" fill="#8a8a8a" stroke="none"/></g><g stroke="#000" stroke-width="0.85" stroke-linejoin="round"><polygon points="445.93,22.80 450.51,14.36 459.69,14.36 464.28,22.80 459.69,31.24 450.51,31.24" fill="#d2d2d2" stroke-width="0.95"/><polygon points="485.83,22.80 491.71,11.97 503.49,11.97 509.38,22.80 503.49,33.63 491.71,33.63" fill="#d2d2d2" stroke-width="0.95"/><polygon points="527.08,22.80 533.59,10.82 546.61,10.82 553.12,22.80 546.61,34.78 533.59,34.78" fill="#d2d2d2" stroke-width="0.95"/><polygon points="573.43,22.80 578.01,14.36 587.19,14.36 591.77,22.80 587.19,31.24 578.01,31.24" fill="#d2d2d2" stroke-width="0.95"/><polygon points="616.02,22.80 620.56,14.45 629.64,14.45 634.18,22.80 629.64,31.15 620.56,31.15" fill="#d2d2d2" stroke-width="0.95"/><polygon points="654.58,22.80 661.09,10.82 674.11,10.82 680.62,22.80 674.11,34.78 661.09,34.78" fill="#d2d2d2" stroke-width="0.95"/><polygon points="444.48,47.23 449.79,37.46 460.41,37.46 465.73,47.23 460.41,57.01 449.79,57.01" fill="#d2d2d2" stroke-width="0.95"/><polygon points="487.03,47.23 492.31,37.50 502.89,37.50 508.18,47.23 502.89,56.96 492.31,56.96" fill="#d2d2d2" stroke-width="0.95"/><polygon points="525.77,47.23 532.94,34.05 547.26,34.05 554.43,47.23 547.26,60.41 532.94,60.41" fill="#d2d2d2" stroke-width="0.95"/><polygon points="573.43,47.23 578.01,38.79 587.19,38.79 591.77,47.23 587.19,55.67 578.01,55.67" fill="#d2d2d2" stroke-width="0.95"/><polygon points="613.33,47.23 619.21,36.40 630.99,36.40 636.88,47.23 630.99,58.06 619.21,58.06" fill="#d2d2d2" stroke-width="0.95"/><polygon points="654.58,47.23 661.09,35.25 674.11,35.25 680.62,47.23 674.11,59.21 661.09,59.21" fill="#d2d2d2" stroke-width="0.95"/><polygon points="444.48,71.66 449.79,61.88 460.41,61.88 465.73,71.66 460.41,81.44 449.79,81.44" fill="#d2d2d2" stroke-width="0.95"/><polygon points="485.83,71.66 491.71,60.83 503.49,60.83 509.38,71.66 503.49,82.49 491.71,82.49" fill="#d2d2d2" stroke-width="0.95"/><polygon points="528.33,71.66 534.21,60.83 545.99,60.83 551.88,71.66 545.99,82.49 534.21,82.49" fill="#d2d2d2" stroke-width="0.95"/><polygon points="573.43,71.66 578.01,63.22 587.19,63.22 591.77,71.66 587.19,80.10 578.01,80.10" fill="#d2d2d2" stroke-width="0.95"/><polygon points="615.93,71.66 620.51,63.22 629.69,63.22 634.27,71.66 629.69,80.10 620.51,80.10" fill="#d2d2d2" stroke-width="0.95"/><polygon points="658.43,71.66 663.01,63.22 672.19,63.22 676.77,71.66 672.19,80.10 663.01,80.10" fill="#d2d2d2" stroke-width="0.95"/><polygon points="445.93,96.09 450.51,87.65 459.69,87.65 464.28,96.09 459.69,104.53 450.51,104.53" fill="#d2d2d2" stroke-width="0.95"/><polygon points="488.38,96.09 492.99,87.60 502.21,87.60 506.83,96.09 502.21,104.58 492.99,104.58" fill="#d2d2d2" stroke-width="0.95"/><polygon points="529.62,96.09 534.86,86.45 545.34,86.45 550.58,96.09 545.34,105.73 534.86,105.73" fill="#d2d2d2" stroke-width="0.95"/><polygon points="573.43,96.09 578.01,87.65 587.19,87.65 591.77,96.09 587.19,104.53 578.01,104.53" fill="#d2d2d2" stroke-width="0.95"/><polygon points="615.93,96.09 620.51,87.65 629.69,87.65 634.27,96.09 629.69,104.53 620.51,104.53" fill="#d2d2d2" stroke-width="0.95"/><polygon points="655.83,96.09 661.71,85.26 673.49,85.26 679.38,96.09 673.49,106.92 661.71,106.92" fill="#d2d2d2" stroke-width="0.95"/><polygon points="445.93,120.52 450.51,112.08 459.69,112.08 464.28,120.52 459.69,128.96 450.51,128.96" fill="#d2d2d2" stroke-width="0.95"/><polygon points="487.03,120.52 492.31,110.79 502.89,110.79 508.18,120.52 502.89,130.25 492.31,130.25" fill="#d2d2d2" stroke-width="0.95"/><polygon points="527.08,120.52 533.59,108.54 546.61,108.54 553.12,120.52 546.61,132.50 533.59,132.50" fill="#d2d2d2" stroke-width="0.95"/><polygon points="573.43,120.52 578.01,112.08 587.19,112.08 591.77,120.52 587.19,128.96 578.01,128.96" fill="#d2d2d2" stroke-width="0.95"/><polygon points="613.33,120.52 619.21,109.69 630.99,109.69 636.88,120.52 630.99,131.35 619.21,131.35" fill="#d2d2d2" stroke-width="0.95"/><polygon points="655.93,120.52 661.76,109.78 673.44,109.78 679.27,120.52 673.44,131.26 661.76,131.26" fill="#d2d2d2" stroke-width="0.95"/><polygon points="445.93,144.95 450.51,136.51 459.69,136.51 464.28,144.95 459.69,153.39 450.51,153.39" fill="#d2d2d2" stroke-width="0.95"/><polygon points="485.83,144.95 491.71,134.12 503.49,134.12 509.38,144.95 503.49,155.78 491.71,155.78" fill="#d2d2d2" stroke-width="0.95"/><polygon points="530.93,144.95 535.51,136.51 544.69,136.51 549.27,144.95 544.69,153.39 535.51,153.39" fill="#d2d2d2" stroke-width="0.95"/><polygon points="573.43,144.95 578.01,136.51 587.19,136.51 591.77,144.95 587.19,153.39 578.01,153.39" fill="#d2d2d2" stroke-width="0.95"/><polygon points="615.93,144.95 620.51,136.51 629.69,136.51 634.27,144.95 629.69,153.39 620.51,153.39" fill="#d2d2d2" stroke-width="0.95"/><polygon points="658.43,144.95 663.01,136.51 672.19,136.51 676.77,144.95 672.19,153.39 663.01,153.39" fill="#d2d2d2" stroke-width="0.95"/><polygon points="445.93,169.38 450.51,160.94 459.69,160.94 464.28,169.38 459.69,177.82 450.51,177.82" fill="#d2d2d2" stroke-width="0.95"/><polygon points="485.83,169.38 491.71,158.55 503.49,158.55 509.38,169.38 503.49,180.21 491.71,180.21" fill="#d2d2d2" stroke-width="0.95"/><polygon points="530.93,169.38 535.51,160.94 544.69,160.94 549.27,169.38 544.69,177.82 535.51,177.82" fill="#d2d2d2" stroke-width="0.95"/><polygon points="573.43,169.38 578.01,160.94 587.19,160.94 591.77,169.38 587.19,177.82 578.01,177.82" fill="#d2d2d2" stroke-width="0.95"/><polygon points="614.52,169.38 619.81,159.65 630.39,159.65 635.68,169.38 630.39,179.11 619.81,179.11" fill="#d2d2d2" stroke-width="0.95"/><polygon points="658.43,169.38 663.01,160.94 672.19,160.94 676.77,169.38 672.19,177.82 663.01,177.82" fill="#d2d2d2" stroke-width="0.95"/><polygon points="445.93,193.81 450.51,185.37 459.69,185.37 464.28,193.81 459.69,202.25 450.51,202.25" fill="#d2d2d2" stroke-width="0.95"/><polygon points="485.83,193.81 491.71,182.98 503.49,182.98 509.38,193.81 503.49,204.64 491.71,204.64" fill="#d2d2d2" stroke-width="0.95"/><polygon points="529.62,193.81 534.86,184.17 545.34,184.17 550.58,193.81 545.34,203.45 534.86,203.45" fill="#d2d2d2" stroke-width="0.95"/><polygon points="572.02,193.81 577.31,184.08 587.89,184.08 593.18,193.81 587.89,203.54 577.31,203.54" fill="#d2d2d2" stroke-width="0.95"/><polygon points="615.93,193.81 620.51,185.37 629.69,185.37 634.27,193.81 629.69,202.25 620.51,202.25" fill="#d2d2d2" stroke-width="0.95"/><polygon points="657.02,193.81 662.31,184.08 672.89,184.08 678.18,193.81 672.89,203.54 662.31,203.54" fill="#d2d2d2" stroke-width="0.95"/><polygon points="445.93,218.24 450.51,209.80 459.69,209.80 464.28,218.24 459.69,226.68 450.51,226.68" fill="#d2d2d2" stroke-width="0.95"/><polygon points="485.83,218.24 491.71,207.41 503.49,207.41 509.38,218.24 503.49,229.07 491.71,229.07" fill="#d2d2d2" stroke-width="0.95"/><polygon points="530.93,218.24 535.51,209.80 544.69,209.80 549.27,218.24 544.69,226.68 535.51,226.68" fill="#d2d2d2" stroke-width="0.95"/><polygon points="573.43,218.24 578.01,209.80 587.19,209.80 591.77,218.24 587.19,226.68 578.01,226.68" fill="#d2d2d2" stroke-width="0.95"/><polygon points="613.33,218.24 619.21,207.41 630.99,207.41 636.88,218.24 630.99,229.07 619.21,229.07" fill="#d2d2d2" stroke-width="0.95"/><polygon points="658.43,218.24 663.01,209.80 672.19,209.80 676.77,218.24 672.19,226.68 663.01,226.68" fill="#d2d2d2" stroke-width="0.95"/><polygon points="445.93,242.67 450.51,234.23 459.69,234.23 464.28,242.67 459.69,251.11 450.51,251.11" fill="#d2d2d2" stroke-width="0.95"/><polygon points="485.83,242.67 491.71,231.84 503.49,231.84 509.38,242.67 503.49,253.50 491.71,253.50" fill="#d2d2d2" stroke-width="0.95"/><polygon points="525.93,242.67 533.01,229.63 547.19,229.63 554.27,242.67 547.19,255.71 533.01,255.71" fill="#d2d2d2" stroke-width="0.95"/><polygon points="573.43,242.67 578.01,234.23 587.19,234.23 591.77,242.67 587.19,251.11 578.01,251.11" fill="#d2d2d2" stroke-width="0.95"/><polygon points="613.33,242.67 619.21,231.84 630.99,231.84 636.88,242.67 630.99,253.50 619.21,253.50" fill="#d2d2d2" stroke-width="0.95"/><polygon points="658.43,242.67 663.01,234.23 672.19,234.23 676.77,242.67 672.19,251.11 663.01,251.11" fill="#d2d2d2" stroke-width="0.95"/><polygon points="449.48,22.80 452.29,17.62 457.91,17.62 460.73,22.80 457.91,27.98 452.29,27.98" fill="#d2d2d2" stroke-width="0.92"/><polygon points="491.08,22.80 494.34,16.80 500.86,16.80 504.12,22.80 500.86,28.80 494.34,28.80" fill="#d2d2d2" stroke-width="0.92"/><polygon points="534.88,22.80 537.49,17.99 542.71,17.99 545.33,22.80 542.71,27.61 537.49,27.61" fill="#d2d2d2" stroke-width="0.92"/><polygon points="576.98,22.80 579.79,17.62 585.41,17.62 588.23,22.80 585.41,27.98 579.79,27.98" fill="#d2d2d2" stroke-width="0.92"/><polygon points="619.48,22.80 622.29,17.62 627.91,17.62 630.73,22.80 627.91,27.98 622.29,27.98" fill="#d2d2d2" stroke-width="0.92"/><polygon points="662.38,22.80 664.99,17.99 670.21,17.99 672.83,22.80 670.21,27.61 664.99,27.61" fill="#d2d2d2" stroke-width="0.92"/><polygon points="449.73,47.23 452.41,42.29 457.79,42.29 460.48,47.23 457.79,52.18 452.41,52.18" fill="#d2d2d2" stroke-width="0.92"/><polygon points="491.83,47.23 494.71,41.92 500.49,41.92 503.38,47.23 500.49,52.54 494.71,52.54" fill="#d2d2d2" stroke-width="0.92"/><polygon points="533.68,47.23 536.89,41.32 543.31,41.32 546.52,47.23 543.31,53.14 536.89,53.14" fill="#d2d2d2" stroke-width="0.92"/><polygon points="576.98,47.23 579.79,42.06 585.41,42.06 588.23,47.23 585.41,52.41 579.79,52.41" fill="#d2d2d2" stroke-width="0.92"/><polygon points="618.77,47.23 621.94,41.41 628.26,41.41 631.43,47.23 628.26,53.05 621.94,53.05" fill="#d2d2d2" stroke-width="0.92"/><polygon points="662.38,47.23 664.99,42.42 670.21,42.42 672.83,47.23 670.21,52.04 664.99,52.04" fill="#d2d2d2" stroke-width="0.92"/><polygon points="449.73,71.66 452.41,66.72 457.79,66.72 460.48,71.66 457.79,76.60 452.41,76.60" fill="#d2d2d2" stroke-width="0.92"/><polygon points="491.08,71.66 494.34,65.66 500.86,65.66 504.12,71.66 500.86,77.66 494.34,77.66" fill="#d2d2d2" stroke-width="0.92"/><polygon points="534.88,71.66 537.49,66.85 542.71,66.85 545.33,71.66 542.71,76.47 537.49,76.47" fill="#d2d2d2" stroke-width="0.92"/><polygon points="576.98,71.66 579.79,66.48 585.41,66.48 588.23,71.66 585.41,76.83 579.79,76.83" fill="#d2d2d2" stroke-width="0.92"/><polygon points="619.48,71.66 622.29,66.48 627.91,66.48 630.73,71.66 627.91,76.83 622.29,76.83" fill="#d2d2d2" stroke-width="0.92"/><polygon points="661.98,71.66 664.79,66.48 670.41,66.48 673.23,71.66 670.41,76.83 664.79,76.83" fill="#d2d2d2" stroke-width="0.92"/><polygon points="449.48,96.09 452.29,90.91 457.91,90.91 460.73,96.09 457.91,101.26 452.29,101.26" fill="#d2d2d2" stroke-width="0.92"/><polygon points="491.83,96.09 494.71,90.78 500.49,90.78 503.38,96.09 500.49,101.40 494.71,101.40" fill="#d2d2d2" stroke-width="0.92"/><polygon points="534.48,96.09 537.29,90.91 542.91,90.91 545.73,96.09 542.91,101.26 537.29,101.26" fill="#d2d2d2" stroke-width="0.92"/><polygon points="576.98,96.09 579.79,90.91 585.41,90.91 588.23,96.09 585.41,101.26 579.79,101.26" fill="#d2d2d2" stroke-width="0.92"/><polygon points="619.48,96.09 622.29,90.91 627.91,90.91 630.73,96.09 627.91,101.26 622.29,101.26" fill="#d2d2d2" stroke-width="0.92"/><polygon points="661.43,96.09 664.51,90.41 670.69,90.41 673.77,96.09 670.69,101.77 664.51,101.77" fill="#d2d2d2" stroke-width="0.92"/><polygon points="449.48,120.52 452.29,115.34 457.91,115.34 460.73,120.52 457.91,125.69 452.29,125.69" fill="#d2d2d2" stroke-width="0.92"/><polygon points="492.23,120.52 494.91,115.57 500.29,115.57 502.98,120.52 500.29,125.47 494.91,125.47" fill="#d2d2d2" stroke-width="0.92"/><polygon points="534.88,120.52 537.49,115.71 542.71,115.71 545.33,120.52 542.71,125.33 537.49,125.33" fill="#d2d2d2" stroke-width="0.92"/><polygon points="576.98,120.52 579.79,115.34 585.41,115.34 588.23,120.52 585.41,125.69 579.79,125.69" fill="#d2d2d2" stroke-width="0.92"/><polygon points="619.98,120.52 622.54,115.80 627.66,115.80 630.23,120.52 627.66,125.23 622.54,125.23" fill="#d2d2d2" stroke-width="0.92"/><polygon points="662.18,120.52 664.89,115.53 670.31,115.53 673.02,120.52 670.31,125.51 664.89,125.51" fill="#d2d2d2" stroke-width="0.92"/><polygon points="449.48,144.95 452.29,139.78 457.91,139.78 460.73,144.95 457.91,150.13 452.29,150.13" fill="#d2d2d2" stroke-width="0.92"/><polygon points="492.23,144.95 494.91,140.01 500.29,140.01 502.98,144.95 500.29,149.90 494.91,149.90" fill="#d2d2d2" stroke-width="0.92"/><polygon points="534.48,144.95 537.29,139.78 542.91,139.78 545.73,144.95 542.91,150.13 537.29,150.13" fill="#d2d2d2" stroke-width="0.92"/><polygon points="576.98,144.95 579.79,139.78 585.41,139.78 588.23,144.95 585.41,150.13 579.79,150.13" fill="#d2d2d2" stroke-width="0.92"/><polygon points="619.48,144.95 622.29,139.78 627.91,139.78 630.73,144.95 627.91,150.13 622.29,150.13" fill="#d2d2d2" stroke-width="0.92"/><polygon points="661.98,144.95 664.79,139.78 670.41,139.78 673.23,144.95 670.41,150.13 664.79,150.13" fill="#d2d2d2" stroke-width="0.92"/><polygon points="449.48,169.38 452.29,164.20 457.91,164.20 460.73,169.38 457.91,174.56 452.29,174.56" fill="#d2d2d2" stroke-width="0.92"/><polygon points="492.23,169.38 494.91,164.44 500.29,164.44 502.98,169.38 500.29,174.32 494.91,174.32" fill="#d2d2d2" stroke-width="0.92"/><polygon points="534.48,169.38 537.29,164.20 542.91,164.20 545.73,169.38 542.91,174.56 537.29,174.56" fill="#d2d2d2" stroke-width="0.92"/><polygon points="576.98,169.38 579.79,164.20 585.41,164.20 588.23,169.38 585.41,174.56 579.79,174.56" fill="#d2d2d2" stroke-width="0.92"/><polygon points="619.98,169.38 622.54,164.66 627.66,164.66 630.23,169.38 627.66,174.09 622.54,174.09" fill="#d2d2d2" stroke-width="0.92"/><polygon points="661.98,169.38 664.79,164.20 670.41,164.20 673.23,169.38 670.41,174.56 664.79,174.56" fill="#d2d2d2" stroke-width="0.92"/><polygon points="449.48,193.81 452.29,188.63 457.91,188.63 460.73,193.81 457.91,198.99 452.29,198.99" fill="#d2d2d2" stroke-width="0.92"/><polygon points="492.23,193.81 494.91,188.87 500.29,188.87 502.98,193.81 500.29,198.75 494.91,198.75" fill="#d2d2d2" stroke-width="0.92"/><polygon points="534.48,193.81 537.29,188.63 542.91,188.63 545.73,193.81 542.91,198.99 537.29,198.99" fill="#d2d2d2" stroke-width="0.92"/><polygon points="577.62,193.81 580.11,189.23 585.09,189.23 587.58,193.81 585.09,198.39 580.11,198.39" fill="#d2d2d2" stroke-width="0.92"/><polygon points="619.48,193.81 622.29,188.63 627.91,188.63 630.73,193.81 627.91,198.99 622.29,198.99" fill="#d2d2d2" stroke-width="0.92"/><polygon points="662.23,193.81 664.91,188.87 670.29,188.87 672.98,193.81 670.29,198.75 664.91,198.75" fill="#d2d2d2" stroke-width="0.92"/><polygon points="449.48,218.24 452.29,213.06 457.91,213.06 460.73,218.24 457.91,223.42 452.29,223.42" fill="#d2d2d2" stroke-width="0.92"/><polygon points="492.23,218.24 494.91,213.30 500.29,213.30 502.98,218.24 500.29,223.19 494.91,223.19" fill="#d2d2d2" stroke-width="0.92"/><polygon points="534.48,218.24 537.29,213.06 542.91,213.06 545.73,218.24 542.91,223.42 537.29,223.42" fill="#d2d2d2" stroke-width="0.92"/><polygon points="576.98,218.24 579.79,213.06 585.41,213.06 588.23,218.24 585.41,223.42 579.79,223.42" fill="#d2d2d2" stroke-width="0.92"/><polygon points="618.77,218.24 621.94,212.42 628.26,212.42 631.43,218.24 628.26,224.06 621.94,224.06" fill="#d2d2d2" stroke-width="0.92"/><polygon points="661.98,218.24 664.79,213.06 670.41,213.06 673.23,218.24 670.41,223.42 664.79,223.42" fill="#d2d2d2" stroke-width="0.92"/><polygon points="449.48,242.67 452.29,237.50 457.91,237.50 460.73,242.67 457.91,247.85 452.29,247.85" fill="#d2d2d2" stroke-width="0.92"/><polygon points="491.08,242.67 494.34,236.67 500.86,236.67 504.12,242.67 500.86,248.67 494.34,248.67" fill="#d2d2d2" stroke-width="0.92"/><polygon points="533.68,242.67 536.89,236.76 543.31,236.76 546.52,242.67 543.31,248.58 536.89,248.58" fill="#d2d2d2" stroke-width="0.92"/><polygon points="576.98,242.67 579.79,237.50 585.41,237.50 588.23,242.67 585.41,247.85 579.79,247.85" fill="#d2d2d2" stroke-width="0.92"/><polygon points="619.98,242.67 622.54,237.96 627.66,237.96 630.23,242.67 627.66,247.39 622.54,247.39" fill="#d2d2d2" stroke-width="0.92"/><polygon points="661.98,242.67 664.79,237.50 670.41,237.50 673.23,242.67 670.41,247.85 664.79,247.85" fill="#d2d2d2" stroke-width="0.92"/><polygon points="451.62,22.80 453.36,19.60 456.84,19.60 458.58,22.80 456.84,26.00 453.36,26.00" fill="#d2d2d2" stroke-width="0.7"/><polygon points="495.18,22.80 496.39,20.57 498.81,20.57 500.03,22.80 498.81,25.03 496.39,25.03" fill="#d2d2d2" stroke-width="0.7"/><polygon points="537.68,22.80 538.89,20.57 541.31,20.57 542.52,22.80 541.31,25.03 538.89,25.03" fill="#d2d2d2" stroke-width="0.7"/><polygon points="579.12,22.80 580.86,19.60 584.34,19.60 586.08,22.80 584.34,26.00 580.86,26.00" fill="#d2d2d2" stroke-width="0.7"/><polygon points="621.88,22.80 623.49,19.83 626.71,19.83 628.33,22.80 626.71,25.77 623.49,25.77" fill="#d2d2d2" stroke-width="0.7"/><polygon points="665.18,22.80 666.39,20.57 668.81,20.57 670.02,22.80 668.81,25.03 666.39,25.03" fill="#d2d2d2" stroke-width="0.7"/><polygon points="451.88,47.23 453.49,44.26 456.71,44.26 458.33,47.23 456.71,50.20 453.49,50.20" fill="#d2d2d2" stroke-width="0.7"/><polygon points="495.18,47.23 496.39,45.00 498.81,45.00 500.03,47.23 498.81,49.46 496.39,49.46" fill="#d2d2d2" stroke-width="0.7"/><polygon points="537.68,47.23 538.89,45.00 541.31,45.00 542.52,47.23 541.31,49.46 538.89,49.46" fill="#d2d2d2" stroke-width="0.7"/><polygon points="579.12,47.23 580.86,44.03 584.34,44.03 586.08,47.23 584.34,50.43 580.86,50.43" fill="#d2d2d2" stroke-width="0.7"/><polygon points="622.68,47.23 623.89,45.00 626.31,45.00 627.52,47.23 626.31,49.46 623.89,49.46" fill="#d2d2d2" stroke-width="0.7"/><polygon points="665.18,47.23 666.39,45.00 668.81,45.00 670.02,47.23 668.81,49.46 666.39,49.46" fill="#d2d2d2" stroke-width="0.7"/><polygon points="452.28,71.66 453.69,69.06 456.51,69.06 457.93,71.66 456.51,74.26 453.69,74.26" fill="#d2d2d2" stroke-width="0.7"/><polygon points="495.18,71.66 496.39,69.43 498.81,69.43 500.03,71.66 498.81,73.89 496.39,73.89" fill="#d2d2d2" stroke-width="0.7"/><polygon points="537.68,71.66 538.89,69.43 541.31,69.43 542.52,71.66 541.31,73.89 538.89,73.89" fill="#d2d2d2" stroke-width="0.7"/><polygon points="579.12,71.66 580.86,68.46 584.34,68.46 586.08,71.66 584.34,74.86 580.86,74.86" fill="#d2d2d2" stroke-width="0.7"/><polygon points="621.62,71.66 623.36,68.46 626.84,68.46 628.58,71.66 626.84,74.86 623.36,74.86" fill="#d2d2d2" stroke-width="0.7"/><polygon points="664.12,71.66 665.86,68.46 669.34,68.46 671.08,71.66 669.34,74.86 665.86,74.86" fill="#d2d2d2" stroke-width="0.7"/><polygon points="451.62,96.09 453.36,92.89 456.84,92.89 458.58,96.09 456.84,99.29 453.36,99.29" fill="#d2d2d2" stroke-width="0.7"/><polygon points="494.28,96.09 495.94,93.03 499.26,93.03 500.93,96.09 499.26,99.15 495.94,99.15" fill="#d2d2d2" stroke-width="0.7"/><polygon points="536.73,96.09 538.41,92.98 541.79,92.98 543.48,96.09 541.79,99.19 538.41,99.19" fill="#d2d2d2" stroke-width="0.7"/><polygon points="579.12,96.09 580.86,92.89 584.34,92.89 586.08,96.09 584.34,99.29 580.86,99.29" fill="#d2d2d2" stroke-width="0.7"/><polygon points="621.62,96.09 623.36,92.89 626.84,92.89 628.58,96.09 626.84,99.29 623.36,99.29" fill="#d2d2d2" stroke-width="0.7"/><polygon points="665.18,96.09 666.39,93.86 668.81,93.86 670.02,96.09 668.81,98.32 666.39,98.32" fill="#d2d2d2" stroke-width="0.7"/><polygon points="451.62,120.52 453.36,117.32 456.84,117.32 458.58,120.52 456.84,123.72 453.36,123.72" fill="#d2d2d2" stroke-width="0.7"/><polygon points="494.28,120.52 495.94,117.46 499.26,117.46 500.93,120.52 499.26,123.58 495.94,123.58" fill="#d2d2d2" stroke-width="0.7"/><polygon points="537.68,120.52 538.89,118.29 541.31,118.29 542.52,120.52 541.31,122.75 538.89,122.75" fill="#d2d2d2" stroke-width="0.7"/><polygon points="579.12,120.52 580.86,117.32 584.34,117.32 586.08,120.52 584.34,123.72 580.86,123.72" fill="#d2d2d2" stroke-width="0.7"/><polygon points="622.68,120.52 623.89,118.29 626.31,118.29 627.52,120.52 626.31,122.75 623.89,122.75" fill="#d2d2d2" stroke-width="0.7"/><polygon points="664.77,120.52 666.19,117.92 669.01,117.92 670.43,120.52 669.01,123.12 666.19,123.12" fill="#d2d2d2" stroke-width="0.7"/><polygon points="451.62,144.95 453.36,141.75 456.84,141.75 458.58,144.95 456.84,148.15 453.36,148.15" fill="#d2d2d2" stroke-width="0.7"/><polygon points="495.18,144.95 496.39,142.72 498.81,142.72 500.03,144.95 498.81,147.18 496.39,147.18" fill="#d2d2d2" stroke-width="0.7"/><polygon points="536.62,144.95 538.36,141.75 541.84,141.75 543.58,144.95 541.84,148.15 538.36,148.15" fill="#d2d2d2" stroke-width="0.7"/><polygon points="579.12,144.95 580.86,141.75 584.34,141.75 586.08,144.95 584.34,148.15 580.86,148.15" fill="#d2d2d2" stroke-width="0.7"/><polygon points="621.62,144.95 623.36,141.75 626.84,141.75 628.58,144.95 626.84,148.15 623.36,148.15" fill="#d2d2d2" stroke-width="0.7"/><polygon points="664.12,144.95 665.86,141.75 669.34,141.75 671.08,144.95 669.34,148.15 665.86,148.15" fill="#d2d2d2" stroke-width="0.7"/><polygon points="451.62,169.38 453.36,166.18 456.84,166.18 458.58,169.38 456.84,172.58 453.36,172.58" fill="#d2d2d2" stroke-width="0.7"/><polygon points="495.18,169.38 496.39,167.15 498.81,167.15 500.03,169.38 498.81,171.61 496.39,171.61" fill="#d2d2d2" stroke-width="0.7"/><polygon points="536.62,169.38 538.36,166.18 541.84,166.18 543.58,169.38 541.84,172.58 538.36,172.58" fill="#d2d2d2" stroke-width="0.7"/><polygon points="579.12,169.38 580.86,166.18 584.34,166.18 586.08,169.38 584.34,172.58 580.86,172.58" fill="#d2d2d2" stroke-width="0.7"/><polygon points="622.27,169.38 623.69,166.78 626.51,166.78 627.93,169.38 626.51,171.98 623.69,171.98" fill="#d2d2d2" stroke-width="0.7"/><polygon points="664.12,169.38 665.86,166.18 669.34,166.18 671.08,169.38 669.34,172.58 665.86,172.58" fill="#d2d2d2" stroke-width="0.7"/><polygon points="451.62,193.81 453.36,190.61 456.84,190.61 458.58,193.81 456.84,197.01 453.36,197.01" fill="#d2d2d2" stroke-width="0.7"/><polygon points="495.18,193.81 496.39,191.58 498.81,191.58 500.03,193.81 498.81,196.04 496.39,196.04" fill="#d2d2d2" stroke-width="0.7"/><polygon points="536.77,193.81 538.44,190.75 541.76,190.75 543.43,193.81 541.76,196.87 538.44,196.87" fill="#d2d2d2" stroke-width="0.7"/><polygon points="579.77,193.81 581.19,191.21 584.01,191.21 585.43,193.81 584.01,196.41 581.19,196.41" fill="#d2d2d2" stroke-width="0.7"/><polygon points="621.62,193.81 623.36,190.61 626.84,190.61 628.58,193.81 626.84,197.01 623.36,197.01" fill="#d2d2d2" stroke-width="0.7"/><polygon points="664.77,193.81 666.19,191.21 669.01,191.21 670.43,193.81 669.01,196.41 666.19,196.41" fill="#d2d2d2" stroke-width="0.7"/><polygon points="451.62,218.24 453.36,215.04 456.84,215.04 458.58,218.24 456.84,221.44 453.36,221.44" fill="#d2d2d2" stroke-width="0.7"/><polygon points="495.18,218.24 496.39,216.01 498.81,216.01 500.03,218.24 498.81,220.47 496.39,220.47" fill="#d2d2d2" stroke-width="0.7"/><polygon points="536.62,218.24 538.36,215.04 541.84,215.04 543.58,218.24 541.84,221.44 538.36,221.44" fill="#d2d2d2" stroke-width="0.7"/><polygon points="579.12,218.24 580.86,215.04 584.34,215.04 586.08,218.24 584.34,221.44 580.86,221.44" fill="#d2d2d2" stroke-width="0.7"/><polygon points="622.68,218.24 623.89,216.01 626.31,216.01 627.52,218.24 626.31,220.47 623.89,220.47" fill="#d2d2d2" stroke-width="0.7"/><polygon points="664.12,218.24 665.86,215.04 669.34,215.04 671.08,218.24 669.34,221.44 665.86,221.44" fill="#d2d2d2" stroke-width="0.7"/><polygon points="451.62,242.67 453.36,239.47 456.84,239.47 458.58,242.67 456.84,245.87 453.36,245.87" fill="#d2d2d2" stroke-width="0.7"/><polygon points="495.18,242.67 496.39,240.44 498.81,240.44 500.03,242.67 498.81,244.90 496.39,244.90" fill="#d2d2d2" stroke-width="0.7"/><polygon points="537.68,242.67 538.89,240.44 541.31,240.44 542.52,242.67 541.31,244.90 538.89,244.90" fill="#d2d2d2" stroke-width="0.7"/><polygon points="579.12,242.67 580.86,239.47 584.34,239.47 586.08,242.67 584.34,245.87 580.86,245.87" fill="#d2d2d2" stroke-width="0.7"/><polygon points="622.68,242.67 623.89,240.44 626.31,240.44 627.52,242.67 626.31,244.90 623.89,244.90" fill="#d2d2d2" stroke-width="0.7"/><polygon points="664.12,242.67 665.86,239.47 669.34,239.47 671.08,242.67 669.34,245.87 665.86,245.87" fill="#d2d2d2" stroke-width="0.7"/><polygon points="452.73,22.80 453.91,20.62 456.29,20.62 457.48,22.80 456.29,24.98 453.91,24.98" fill="#454545"/><circle cx="455.10" cy="22.80" r="0.6" fill="#8a8a8a" stroke="none"/><polygon points="495.23,22.80 496.41,20.62 498.79,20.62 499.98,22.80 498.79,24.98 496.41,24.98" fill="#454545"/><circle cx="497.60" cy="22.80" r="0.6" fill="#8a8a8a" stroke="none"/><polygon points="537.73,22.80 538.91,20.62 541.29,20.62 542.48,22.80 541.29,24.98 538.91,24.98" fill="#454545"/><circle cx="540.10" cy="22.80" r="0.6" fill="#8a8a8a" stroke="none"/><polygon points="580.23,22.80 581.41,20.62 583.79,20.62 584.98,22.80 583.79,24.98 581.41,24.98" fill="#454545"/><circle cx="582.60" cy="22.80" r="0.6" fill="#8a8a8a" stroke="none"/><polygon points="622.73,22.80 623.91,20.62 626.29,20.62 627.48,22.80 626.29,24.98 623.91,24.98" fill="#454545"/><circle cx="625.10" cy="22.80" r="0.6" fill="#8a8a8a" stroke="none"/><polygon points="665.23,22.80 666.41,20.62 668.79,20.62 669.98,22.80 668.79,24.98 666.41,24.98" fill="#454545"/><circle cx="667.60" cy="22.80" r="0.6" fill="#8a8a8a" stroke="none"/><polygon points="452.73,47.23 453.91,45.05 456.29,45.05 457.48,47.23 456.29,49.42 453.91,49.42" fill="#454545"/><circle cx="455.10" cy="47.23" r="0.6" fill="#8a8a8a" stroke="none"/><polygon points="495.23,47.23 496.41,45.05 498.79,45.05 499.98,47.23 498.79,49.42 496.41,49.42" fill="#454545"/><circle cx="497.60" cy="47.23" r="0.6" fill="#8a8a8a" stroke="none"/><polygon points="537.73,47.23 538.91,45.05 541.29,45.05 542.48,47.23 541.29,49.42 538.91,49.42" fill="#454545"/><circle cx="540.10" cy="47.23" r="0.6" fill="#8a8a8a" stroke="none"/><polygon points="580.23,47.23 581.41,45.05 583.79,45.05 584.98,47.23 583.79,49.42 581.41,49.42" fill="#454545"/><circle cx="582.60" cy="47.23" r="0.6" fill="#8a8a8a" stroke="none"/><polygon points="622.73,47.23 623.91,45.05 626.29,45.05 627.48,47.23 626.29,49.42 623.91,49.42" fill="#454545"/><circle cx="625.10" cy="47.23" r="0.6" fill="#8a8a8a" stroke="none"/><polygon points="665.23,47.23 666.41,45.05 668.79,45.05 669.98,47.23 668.79,49.42 666.41,49.42" fill="#454545"/><circle cx="667.60" cy="47.23" r="0.6" fill="#8a8a8a" stroke="none"/><polygon points="452.73,71.66 453.91,69.47 456.29,69.47 457.48,71.66 456.29,73.84 453.91,73.84" fill="#454545"/><circle cx="455.10" cy="71.66" r="0.6" fill="#8a8a8a" stroke="none"/><polygon points="495.23,71.66 496.41,69.47 498.79,69.47 499.98,71.66 498.79,73.84 496.41,73.84" fill="#454545"/><circle cx="497.60" cy="71.66" r="0.6" fill="#8a8a8a" stroke="none"/><polygon points="537.73,71.66 538.91,69.47 541.29,69.47 542.48,71.66 541.29,73.84 538.91,73.84" fill="#454545"/><circle cx="540.10" cy="71.66" r="0.6" fill="#8a8a8a" stroke="none"/><polygon points="580.23,71.66 581.41,69.47 583.79,69.47 584.98,71.66 583.79,73.84 581.41,73.84" fill="#454545"/><circle cx="582.60" cy="71.66" r="0.6" fill="#8a8a8a" stroke="none"/><polygon points="622.73,71.66 623.91,69.47 626.29,69.47 627.48,71.66 626.29,73.84 623.91,73.84" fill="#454545"/><circle cx="625.10" cy="71.66" r="0.6" fill="#8a8a8a" stroke="none"/><polygon points="665.23,71.66 666.41,69.47 668.79,69.47 669.98,71.66 668.79,73.84 666.41,73.84" fill="#454545"/><circle cx="667.60" cy="71.66" r="0.6" fill="#8a8a8a" stroke="none"/><polygon points="452.73,96.09 453.91,93.90 456.29,93.90 457.48,96.09 456.29,98.27 453.91,98.27" fill="#454545"/><circle cx="455.10" cy="96.09" r="0.6" fill="#8a8a8a" stroke="none"/><polygon points="495.23,96.09 496.41,93.90 498.79,93.90 499.98,96.09 498.79,98.27 496.41,98.27" fill="#454545"/><circle cx="497.60" cy="96.09" r="0.6" fill="#8a8a8a" stroke="none"/><polygon points="537.73,96.09 538.91,93.90 541.29,93.90 542.48,96.09 541.29,98.27 538.91,98.27" fill="#454545"/><circle cx="540.10" cy="96.09" r="0.6" fill="#8a8a8a" stroke="none"/><polygon points="580.23,96.09 581.41,93.90 583.79,93.90 584.98,96.09 583.79,98.27 581.41,98.27" fill="#454545"/><circle cx="582.60" cy="96.09" r="0.6" fill="#8a8a8a" stroke="none"/><polygon points="622.73,96.09 623.91,93.90 626.29,93.90 627.48,96.09 626.29,98.27 623.91,98.27" fill="#454545"/><circle cx="625.10" cy="96.09" r="0.6" fill="#8a8a8a" stroke="none"/><polygon points="665.23,96.09 666.41,93.90 668.79,93.90 669.98,96.09 668.79,98.27 666.41,98.27" fill="#454545"/><circle cx="667.60" cy="96.09" r="0.6" fill="#8a8a8a" stroke="none"/><polygon points="452.73,120.52 453.91,118.33 456.29,118.33 457.48,120.52 456.29,122.70 453.91,122.70" fill="#454545"/><circle cx="455.10" cy="120.52" r="0.6" fill="#8a8a8a" stroke="none"/><polygon points="495.23,120.52 496.41,118.33 498.79,118.33 499.98,120.52 498.79,122.70 496.41,122.70" fill="#454545"/><circle cx="497.60" cy="120.52" r="0.6" fill="#8a8a8a" stroke="none"/><polygon points="537.73,120.52 538.91,118.33 541.29,118.33 542.48,120.52 541.29,122.70 538.91,122.70" fill="#454545"/><circle cx="540.10" cy="120.52" r="0.6" fill="#8a8a8a" stroke="none"/><polygon points="580.23,120.52 581.41,118.33 583.79,118.33 584.98,120.52 583.79,122.70 581.41,122.70" fill="#454545"/><circle cx="582.60" cy="120.52" r="0.6" fill="#8a8a8a" stroke="none"/><polygon points="622.73,120.52 623.91,118.33 626.29,118.33 627.48,120.52 626.29,122.70 623.91,122.70" fill="#454545"/><circle cx="625.10" cy="120.52" r="0.6" fill="#8a8a8a" stroke="none"/><polygon points="665.23,120.52 666.41,118.33 668.79,118.33 669.98,120.52 668.79,122.70 666.41,122.70" fill="#454545"/><circle cx="667.60" cy="120.52" r="0.6" fill="#8a8a8a" stroke="none"/><polygon points="452.73,144.95 453.91,142.77 456.29,142.77 457.48,144.95 456.29,147.14 453.91,147.14" fill="#454545"/><circle cx="455.10" cy="144.95" r="0.6" fill="#8a8a8a" stroke="none"/><polygon points="495.23,144.95 496.41,142.77 498.79,142.77 499.98,144.95 498.79,147.14 496.41,147.14" fill="#454545"/><circle cx="497.60" cy="144.95" r="0.6" fill="#8a8a8a" stroke="none"/><polygon points="537.73,144.95 538.91,142.77 541.29,142.77 542.48,144.95 541.29,147.14 538.91,147.14" fill="#454545"/><circle cx="540.10" cy="144.95" r="0.6" fill="#8a8a8a" stroke="none"/><polygon points="580.23,144.95 581.41,142.77 583.79,142.77 584.98,144.95 583.79,147.14 581.41,147.14" fill="#454545"/><circle cx="582.60" cy="144.95" r="0.6" fill="#8a8a8a" stroke="none"/><polygon points="622.73,144.95 623.91,142.77 626.29,142.77 627.48,144.95 626.29,147.14 623.91,147.14" fill="#454545"/><circle cx="625.10" cy="144.95" r="0.6" fill="#8a8a8a" stroke="none"/><polygon points="665.23,144.95 666.41,142.77 668.79,142.77 669.98,144.95 668.79,147.14 666.41,147.14" fill="#454545"/><circle cx="667.60" cy="144.95" r="0.6" fill="#8a8a8a" stroke="none"/><polygon points="452.73,169.38 453.91,167.19 456.29,167.19 457.48,169.38 456.29,171.56 453.91,171.56" fill="#454545"/><circle cx="455.10" cy="169.38" r="0.6" fill="#8a8a8a" stroke="none"/><polygon points="495.23,169.38 496.41,167.19 498.79,167.19 499.98,169.38 498.79,171.56 496.41,171.56" fill="#454545"/><circle cx="497.60" cy="169.38" r="0.6" fill="#8a8a8a" stroke="none"/><polygon points="537.73,169.38 538.91,167.19 541.29,167.19 542.48,169.38 541.29,171.56 538.91,171.56" fill="#454545"/><circle cx="540.10" cy="169.38" r="0.6" fill="#8a8a8a" stroke="none"/><polygon points="580.23,169.38 581.41,167.19 583.79,167.19 584.98,169.38 583.79,171.56 581.41,171.56" fill="#454545"/><circle cx="582.60" cy="169.38" r="0.6" fill="#8a8a8a" stroke="none"/><polygon points="622.73,169.38 623.91,167.19 626.29,167.19 627.48,169.38 626.29,171.56 623.91,171.56" fill="#454545"/><circle cx="625.10" cy="169.38" r="0.6" fill="#8a8a8a" stroke="none"/><polygon points="665.23,169.38 666.41,167.19 668.79,167.19 669.98,169.38 668.79,171.56 666.41,171.56" fill="#454545"/><circle cx="667.60" cy="169.38" r="0.6" fill="#8a8a8a" stroke="none"/><polygon points="452.73,193.81 453.91,191.62 456.29,191.62 457.48,193.81 456.29,196.00 453.91,196.00" fill="#454545"/><circle cx="455.10" cy="193.81" r="0.6" fill="#8a8a8a" stroke="none"/><polygon points="495.23,193.81 496.41,191.62 498.79,191.62 499.98,193.81 498.79,196.00 496.41,196.00" fill="#454545"/><circle cx="497.60" cy="193.81" r="0.6" fill="#8a8a8a" stroke="none"/><polygon points="537.73,193.81 538.91,191.62 541.29,191.62 542.48,193.81 541.29,196.00 538.91,196.00" fill="#454545"/><circle cx="540.10" cy="193.81" r="0.6" fill="#8a8a8a" stroke="none"/><polygon points="580.23,193.81 581.41,191.62 583.79,191.62 584.98,193.81 583.79,196.00 581.41,196.00" fill="#454545"/><circle cx="582.60" cy="193.81" r="0.6" fill="#8a8a8a" stroke="none"/><polygon points="622.73,193.81 623.91,191.62 626.29,191.62 627.48,193.81 626.29,196.00 623.91,196.00" fill="#454545"/><circle cx="625.10" cy="193.81" r="0.6" fill="#8a8a8a" stroke="none"/><polygon points="665.23,193.81 666.41,191.62 668.79,191.62 669.98,193.81 668.79,196.00 666.41,196.00" fill="#454545"/><circle cx="667.60" cy="193.81" r="0.6" fill="#8a8a8a" stroke="none"/><polygon points="452.73,218.24 453.91,216.06 456.29,216.06 457.48,218.24 456.29,220.43 453.91,220.43" fill="#454545"/><circle cx="455.10" cy="218.24" r="0.6" fill="#8a8a8a" stroke="none"/><polygon points="495.23,218.24 496.41,216.06 498.79,216.06 499.98,218.24 498.79,220.43 496.41,220.43" fill="#454545"/><circle cx="497.60" cy="218.24" r="0.6" fill="#8a8a8a" stroke="none"/><polygon points="537.73,218.24 538.91,216.06 541.29,216.06 542.48,218.24 541.29,220.43 538.91,220.43" fill="#454545"/><circle cx="540.10" cy="218.24" r="0.6" fill="#8a8a8a" stroke="none"/><polygon points="580.23,218.24 581.41,216.06 583.79,216.06 584.98,218.24 583.79,220.43 581.41,220.43" fill="#454545"/><circle cx="582.60" cy="218.24" r="0.6" fill="#8a8a8a" stroke="none"/><polygon points="622.73,218.24 623.91,216.06 626.29,216.06 627.48,218.24 626.29,220.43 623.91,220.43" fill="#454545"/><circle cx="625.10" cy="218.24" r="0.6" fill="#8a8a8a" stroke="none"/><polygon points="665.23,218.24 666.41,216.06 668.79,216.06 669.98,218.24 668.79,220.43 666.41,220.43" fill="#454545"/><circle cx="667.60" cy="218.24" r="0.6" fill="#8a8a8a" stroke="none"/><polygon points="452.73,242.67 453.91,240.49 456.29,240.49 457.48,242.67 456.29,244.86 453.91,244.86" fill="#454545"/><circle cx="455.10" cy="242.67" r="0.6" fill="#8a8a8a" stroke="none"/><polygon points="495.23,242.67 496.41,240.49 498.79,240.49 499.98,242.67 498.79,244.86 496.41,244.86" fill="#454545"/><circle cx="497.60" cy="242.67" r="0.6" fill="#8a8a8a" stroke="none"/><polygon points="537.73,242.67 538.91,240.49 541.29,240.49 542.48,242.67 541.29,244.86 538.91,244.86" fill="#454545"/><circle cx="540.10" cy="242.67" r="0.6" fill="#8a8a8a" stroke="none"/><polygon points="580.23,242.67 581.41,240.49 583.79,240.49 584.98,242.67 583.79,244.86 581.41,244.86" fill="#454545"/><circle cx="582.60" cy="242.67" r="0.6" fill="#8a8a8a" stroke="none"/><polygon points="622.73,242.67 623.91,240.49 626.29,240.49 627.48,242.67 626.29,244.86 623.91,244.86" fill="#454545"/><circle cx="625.10" cy="242.67" r="0.6" fill="#8a8a8a" stroke="none"/><polygon points="665.23,242.67 666.41,240.49 668.79,240.49 669.98,242.67 668.79,244.86 666.41,244.86" fill="#454545"/><circle cx="667.60" cy="242.67" r="0.6" fill="#8a8a8a" stroke="none"/></g></g><rect x="114.0" y="262.3" width="185.1" height="9.4" fill="url(#grad)"/><line x1="114.6" x2="114.6" y1="262.3" y2="271.7" stroke="#fff" stroke-width="0.5" opacity="0.4"/><line x1="160.5" x2="160.5" y1="262.3" y2="271.7" stroke="#fff" stroke-width="0.5" opacity="0.4"/><line x1="206.4" x2="206.4" y1="262.3" y2="271.7" stroke="#fff" stroke-width="0.5" opacity="0.4"/><line x1="252.3" x2="252.3" y1="262.3" y2="271.7" stroke="#fff" stroke-width="0.5" opacity="0.4"/><line x1="298.2" x2="298.2" y1="262.3" y2="271.7" stroke="#fff" stroke-width="0.5" opacity="0.4"/><g filter="url(#gs)"><g font-size="7.78" fill="#4d4d4d"><text x="77.3" y="25.6" text-anchor="end">Early Fetal</text><text x="77.3" y="50.1" text-anchor="end">Early Mid Fetal</text><text x="77.3" y="74.7" text-anchor="end">Late Mid Fetal</text><text x="77.3" y="99.2" text-anchor="end">Late Fetal</text><text x="77.3" y="123.7" text-anchor="end">Neotal Early Infancy</text><text x="77.3" y="148.2" text-anchor="end">Late Infancy</text><text x="77.3" y="172.8" text-anchor="end">Early Childhood</text><text x="77.3" y="197.3" text-anchor="end">Middle Late Childhood</text><text x="77.3" y="221.8" text-anchor="end">Adolescence</text><text x="77.3" y="246.4" text-anchor="end">Young Adulthood</text><text x="103.8" y="6.0" text-anchor="middle">Amygdala</text><text x="146.1" y="6.0" text-anchor="middle">Cerebellum</text><text x="188.4" y="6.0" text-anchor="middle">Cortex</text><text x="230.7" y="6.0" text-anchor="middle">Hippocampus</text><text x="273.0" y="6.0" text-anchor="middle">Striatum</text><text x="315.3" y="6.0" text-anchor="middle">Thalamus</text></g><text x="66.0" y="9.5" font-size="12.5" fill="#000">A</text><text x="114.6" y="282.4" font-size="7.5" text-anchor="middle" fill="#000">0.000</text><text x="160.5" y="282.4" font-size="7.5" text-anchor="middle" fill="#000">0.025</text><text x="206.4" y="282.4" font-size="7.5" text-anchor="middle" fill="#000">0.050</text><text x="252.3" y="282.4" font-size="7.5" text-anchor="middle" fill="#000">0.075</text><text x="298.2" y="282.4" font-size="7.5" text-anchor="middle" fill="#000">0.100</text><text x="111.5" y="271.8" font-size="9.5" text-anchor="end" fill="#000">P−values</text></g><rect x="465.6" y="262.3" width="184.2" height="9.4" fill="url(#grad)"/><line x1="465.9" x2="465.9" y1="262.3" y2="271.7" stroke="#fff" stroke-width="0.5" opacity="0.4"/><line x1="511.7" x2="511.7" y1="262.3" y2="271.7" stroke="#fff" stroke-width="0.5" opacity="0.4"/><line x1="557.4" x2="557.4" y1="262.3" y2="271.7" stroke="#fff" stroke-width="0.5" opacity="0.4"/><line x1="603.2" x2="603.2" y1="262.3" y2="271.7" stroke="#fff" stroke-width="0.5" opacity="0.4"/><line x1="648.9" x2="648.9" y1="262.3" y2="271.7" stroke="#fff" stroke-width="0.5" opacity="0.4"/><g filter="url(#gs)"><g font-size="7.78" fill="#4d4d4d"><text x="428.1" y="25.4" text-anchor="end">Early Fetal</text><text x="428.1" y="49.8" text-anchor="end">Early Mid Fetal</text><text x="428.1" y="74.3" text-anchor="end">Late Mid Fetal</text><text x="428.1" y="98.7" text-anchor="end">Late Fetal</text><text x="428.1" y="123.1" text-anchor="end">Neotal Early Infancy</text><text x="428.1" y="147.6" text-anchor="end">Late Infancy</text><text x="428.1" y="172.0" text-anchor="end">Early Childhood</text><text x="428.1" y="196.4" text-anchor="end">Middle Late Childhood</text><text x="428.1" y="220.8" text-anchor="end">Adolescence</text><text x="428.1" y="245.3" text-anchor="end">Young Adulthood</text><text x="455.1" y="6.0" text-anchor="middle">Amygdala</text><text x="497.6" y="6.0" text-anchor="middle">Cerebellum</text><text x="540.1" y="6.0" text-anchor="middle">Cortex</text><text x="582.6" y="6.0" text-anchor="middle">Hippocampus</text><text x="625.1" y="6.0" text-anchor="middle">Striatum</text><text x="667.6" y="6.0" text-anchor="middle">Thalamus</text></g><text x="417.5" y="9.5" font-size="12.5" fill="#000">B</text><text x="465.9" y="282.4" font-size="7.5" text-anchor="middle" fill="#000">0.000</text><text x="511.7" y="282.4" font-size="7.5" text-anchor="middle" fill="#000">0.025</text><text x="557.4" y="282.4" font-size="7.5" text-anchor="middle" fill="#000">0.050</text><text x="603.2" y="282.4" font-size="7.5" text-anchor="middle" fill="#000">0.075</text><text x="648.9" y="282.4" font-size="7.5" text-anchor="middle" fill="#000">0.100</text><text x="463.1" y="271.8" font-size="9.5" text-anchor="end" fill="#000">P−values</text></g></svg></body></html>
